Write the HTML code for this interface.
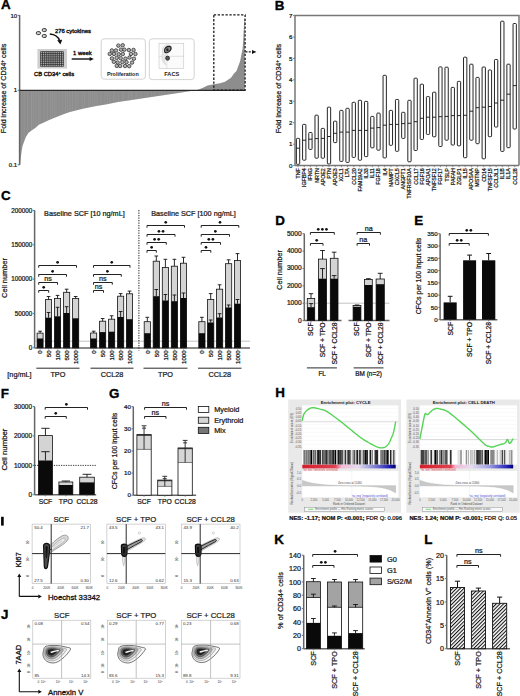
<!DOCTYPE html>
<html><head><meta charset="utf-8"><style>
html,body{margin:0;padding:0;background:#fff;width:520px;height:696px;overflow:hidden}
svg{display:block}
text{font-family:"Liberation Sans",sans-serif;stroke:currentColor;stroke-width:0.22px;paint-order:stroke}
text[font-weight=bold]{stroke-width:0}
</style></head><body>
<svg width="520" height="696" viewBox="0 0 520 696" font-family="Liberation Sans, sans-serif">
<text x="0.9" y="9.3" font-size="13.4" font-weight="bold" fill="#000" style="stroke-width:0.35px;stroke:#000">A</text>
<polygon points="19.8,90.5 19.8,165 20.1,165 20.3,162 21.5,151.5 22.6,145.7 24.3,141.1 26.1,136.5 28.4,133.1 31.8,130.2 35.3,127.9 38.8,124.8 43.4,122.7 48,120.6 52.6,118.6 58.4,116.3 64.1,114 69.9,112.1 75.7,110.6 84,108.6 95,106.3 107,104.2 118,102 130,100.2 145,97.9 160,95.8 170,94.3 180,92.8 187.5,91.6 195,90.5" fill="#8d8d8d"/>
<polygon points="195,90.5 198,89.8 202.5,88 207.5,85.6 213.8,84.3 220,83.2 225,81.8 227.3,80.3 231,77.8 234,73.6 236.5,71 238.3,66.1 240.1,61.2 241.3,55.1 242.6,49 243.2,40.5 243.8,29 244.3,18 244.8,18 244.9,90.5" fill="#8d8d8d"/>
<defs><clipPath id="clipA"><polygon points="19.8,90.5 19.8,165 20.1,165 20.3,162 21.5,151.5 22.6,145.7 24.3,141.1 26.1,136.5 28.4,133.1 31.8,130.2 35.3,127.9 38.8,124.8 43.4,122.7 48,120.6 52.6,118.6 58.4,116.3 64.1,114 69.9,112.1 75.7,110.6 84,108.6 95,106.3 107,104.2 118,102 130,100.2 145,97.9 160,95.8 170,94.3 180,92.8 187.5,91.6 195,90.5"/></clipPath></defs>
<path d="M21,91V165M24.2,91V165M27.4,91V165M31.5,91V165M33.3,91V165M35.8,91V165M38.3,91V165M40.1,91V165M44.2,91V165M47.4,91V165M50.6,91V165M52.4,91V165M54.2,91V165M56,91V165M59.2,91V165M62.4,91V165M65.6,91V165M67.4,91V165M69.9,91V165M72.4,91V165M75.6,91V165M78.1,91V165M82.2,91V165M84.7,91V165M88.8,91V165M90.6,91V165M92.4,91V165M94.2,91V165M96,91V165M97.8,91V165M101,91V165M105.1,91V165M107.6,91V165M110.1,91V165M113.3,91V165M115.1,91V165M118.3,91V165M122.4,91V165M124.2,91V165M128.3,91V165M130.1,91V165M131.9,91V165M136,91V165M137.8,91V165M141,91V165M145.1,91V165M147.6,91V165M151.7,91V165M154.9,91V165M159,91V165M161.5,91V165M164.7,91V165M168.8,91V165M172.9,91V165M175.4,91V165M177.9,91V165M179.7,91V165M181.5,91V165M184,91V165M188.1,91V165M190.6,91V165M192.4,91V165" stroke="#a2a2a2" stroke-width="0.4" fill="none" clip-path="url(#clipA)"/>
<line x1="19.6" y1="15" x2="19.6" y2="165" stroke="#666" stroke-width="1.5"/>
<line x1="17.6" y1="15.3" x2="19.6" y2="15.3" stroke="#666" stroke-width="0.9"/>
<line x1="17.6" y1="90.3" x2="19.6" y2="90.3" stroke="#666" stroke-width="0.9"/>
<line x1="17.6" y1="164.8" x2="19.6" y2="164.8" stroke="#666" stroke-width="0.9"/>
<text x="17.2" y="17.76" font-size="6" text-anchor="end" fill="#1a1a1a">10</text>
<text x="17.2" y="92.46" font-size="6" text-anchor="end" fill="#1a1a1a">1</text>
<text x="17.2" y="166.76" font-size="6" text-anchor="end" fill="#1a1a1a">0.1</text>
<line x1="19.6" y1="90.4" x2="245.3" y2="90.4" stroke="#2a2a2a" stroke-width="1.1"/>
<text transform="translate(6.16,88.5) rotate(-90)" font-size="7.1" text-anchor="middle" fill="#1a1a1a">Fold increase of CD34<tspan font-size="4.5" dy="-2.5">+</tspan><tspan dy="2.5"> cells</tspan></text>
<rect x="213.8" y="14.9" width="31.3" height="75.3" fill="none" stroke="#1a1a1a" stroke-width="1.3" stroke-dasharray="2.3,1.6"/>
<line x1="245.5" y1="51.9" x2="252.2" y2="51.9" stroke="#1a1a1a" stroke-width="1.2" stroke-dasharray="2,1.3"/>
<polygon points="252,49.9 256.4,51.9 252,53.9" fill="#111"/>
<rect x="36.3" y="31.6" width="4.2" height="3.0" rx="1.4" fill="#ccc" stroke="#222" stroke-width="0.85"/>
<rect x="42.2" y="28.6" width="4.2" height="3.0" rx="1.4" fill="#ccc" stroke="#222" stroke-width="0.85"/>
<rect x="42.2" y="34.5" width="4.2" height="3.0" rx="1.4" fill="#ccc" stroke="#222" stroke-width="0.85"/>
<path d="M49.8,34.0 Q57.5,34.6 59.7,40.8" fill="none" stroke="#111" stroke-width="1.4"/>
<polygon points="57.2,40.2 62.2,39.8 60.4,44.6" fill="#111"/>
<text x="54.9" y="33.42" font-size="5.9" text-anchor="start" fill="#1a1a1a" style="stroke-width:0.35px">276 cytokines</text>
<rect x="37.4" y="49" width="29.6" height="19.5" fill="#cfcfcf"/>
<path d="M40.6,51.6V66.3M42.5,51.6V66.3M44.4,51.6V66.3M46.3,51.6V66.3M48.2,51.6V66.3M50.1,51.6V66.3M52,51.6V66.3M53.9,51.6V66.3M55.8,51.6V66.3M57.7,51.6V66.3M59.6,51.6V66.3M61.5,51.6V66.3M63.4,51.6V66.3M40.6,51.6H63.4M40.6,53.44H63.4M40.6,55.27H63.4M40.6,57.11H63.4M40.6,58.95H63.4M40.6,60.79H63.4M40.6,62.62H63.4M40.6,64.46H63.4M40.6,66.3H63.4" stroke="#2a2a2a" stroke-width="0.75" fill="none"/>
<text x="34" y="75.89" font-size="5.8" text-anchor="start" fill="#1a1a1a" style="stroke-width:0.35px">CB CD34<tspan font-size="4" dy="-2">+</tspan><tspan dy="2"> cells</tspan></text>
<text x="73" y="55.12" font-size="5.9" text-anchor="start" fill="#1a1a1a" style="stroke-width:0.35px">1 week</text>
<line x1="71.7" y1="59" x2="90.5" y2="59" stroke="#111" stroke-width="1.4"/>
<polygon points="89.6,56.9 93.8,59 89.6,61.1" fill="#111"/>
<rect x="101.2" y="38.8" width="44.2" height="40.4" rx="3" fill="#fff" stroke="#c8c8c8" stroke-width="0.8"/>
<circle cx="118.35" cy="45.64" r="1.75" fill="#b0b0b0" stroke="#2a2a2a" stroke-width="0.75"/>
<circle cx="122.71" cy="45.24" r="1.75" fill="#b0b0b0" stroke="#2a2a2a" stroke-width="0.75"/>
<circle cx="111.88" cy="50.44" r="1.75" fill="#b0b0b0" stroke="#2a2a2a" stroke-width="0.75"/>
<circle cx="115.96" cy="50.47" r="1.75" fill="#b0b0b0" stroke="#2a2a2a" stroke-width="0.75"/>
<circle cx="121" cy="49.65" r="1.75" fill="#b0b0b0" stroke="#2a2a2a" stroke-width="0.75"/>
<circle cx="124.36" cy="49.67" r="1.75" fill="#b0b0b0" stroke="#2a2a2a" stroke-width="0.75"/>
<circle cx="128.85" cy="50" r="1.75" fill="#b0b0b0" stroke="#2a2a2a" stroke-width="0.75"/>
<circle cx="133.52" cy="49.96" r="1.75" fill="#b0b0b0" stroke="#2a2a2a" stroke-width="0.75"/>
<circle cx="109.75" cy="53.91" r="1.75" fill="#b0b0b0" stroke="#2a2a2a" stroke-width="0.75"/>
<circle cx="114.02" cy="53.94" r="1.75" fill="#b0b0b0" stroke="#2a2a2a" stroke-width="0.75"/>
<circle cx="118.71" cy="54.24" r="1.75" fill="#b0b0b0" stroke="#2a2a2a" stroke-width="0.75"/>
<circle cx="122.8" cy="54.03" r="1.75" fill="#b0b0b0" stroke="#2a2a2a" stroke-width="0.75"/>
<circle cx="130.97" cy="53.9" r="1.75" fill="#b0b0b0" stroke="#2a2a2a" stroke-width="0.75"/>
<circle cx="135.41" cy="53.99" r="1.75" fill="#b0b0b0" stroke="#2a2a2a" stroke-width="0.75"/>
<circle cx="111.94" cy="58.42" r="1.75" fill="#b0b0b0" stroke="#2a2a2a" stroke-width="0.75"/>
<circle cx="116.63" cy="57.88" r="1.75" fill="#b0b0b0" stroke="#2a2a2a" stroke-width="0.75"/>
<circle cx="120.63" cy="58.2" r="1.75" fill="#b0b0b0" stroke="#2a2a2a" stroke-width="0.75"/>
<circle cx="125.38" cy="58.63" r="1.75" fill="#b0b0b0" stroke="#2a2a2a" stroke-width="0.75"/>
<circle cx="129.53" cy="57.57" r="1.75" fill="#b0b0b0" stroke="#2a2a2a" stroke-width="0.75"/>
<circle cx="133.91" cy="58.69" r="1.75" fill="#b0b0b0" stroke="#2a2a2a" stroke-width="0.75"/>
<circle cx="113.85" cy="61.8" r="1.75" fill="#b0b0b0" stroke="#2a2a2a" stroke-width="0.75"/>
<circle cx="117.68" cy="62.52" r="1.75" fill="#b0b0b0" stroke="#2a2a2a" stroke-width="0.75"/>
<circle cx="122.35" cy="62.07" r="1.75" fill="#b0b0b0" stroke="#2a2a2a" stroke-width="0.75"/>
<circle cx="126.51" cy="62.14" r="1.75" fill="#b0b0b0" stroke="#2a2a2a" stroke-width="0.75"/>
<circle cx="132.04" cy="62.58" r="1.75" fill="#b0b0b0" stroke="#2a2a2a" stroke-width="0.75"/>
<circle cx="116.74" cy="65.88" r="1.75" fill="#b0b0b0" stroke="#2a2a2a" stroke-width="0.75"/>
<circle cx="120.12" cy="65.98" r="1.75" fill="#b0b0b0" stroke="#2a2a2a" stroke-width="0.75"/>
<circle cx="125.02" cy="66.02" r="1.75" fill="#b0b0b0" stroke="#2a2a2a" stroke-width="0.75"/>
<circle cx="129.19" cy="66.14" r="1.75" fill="#b0b0b0" stroke="#2a2a2a" stroke-width="0.75"/>
<text x="122.8" y="75.64" font-size="5.4" text-anchor="middle" font-weight="bold" fill="#1a1a1a">Proliferation</text>
<rect x="149.3" y="38.8" width="44.9" height="40.8" rx="3" fill="#fff" stroke="#c8c8c8" stroke-width="0.8"/>
<rect x="159" y="43.3" width="24.8" height="25.3" fill="#fbfbfb" stroke="#bbb" stroke-width="0.5"/>
<line x1="159" y1="56.3" x2="183.8" y2="56.3" stroke="#b5b5b5" stroke-width="0.4"/>
<line x1="166.8" y1="43.3" x2="166.8" y2="68.6" stroke="#c5c5c5" stroke-width="0.4"/>
<path d="M162.5,50 C162,46 168,43.5 171,46 C173,48 170,53 166.5,55 C164,57 164.5,62 166,65 C164,64 161,60 162,56 Z" fill="#e6e6e6" stroke="#c8c8c8" stroke-width="0.5"/>
<path d="M164.6,51.6 C163.8,48.5 166.8,46 169.6,46.4 C172,47 171.4,49.8 169,51.6 C167.6,52.8 165.2,53.4 164.6,51.6 Z" fill="#888" stroke="#1a1a1a" stroke-width="1.1"/>
<ellipse cx="167.4" cy="49.8" rx="1.2" ry="1.5" fill="#222"/>
<ellipse cx="167.6" cy="58.2" rx="1.9" ry="2.1" fill="#555" stroke="#222" stroke-width="0.8"/>
<text x="171.7" y="75.72" font-size="5.6" text-anchor="middle" font-weight="bold" fill="#1a1a1a">FACS</text>
<text x="274.8" y="9.5" font-size="13.4" font-weight="bold" fill="#000" style="stroke-width:0.35px;stroke:#000">B</text>
<path d="M295.0,165.6V15.6H519.0V165.6" fill="none" stroke="#777" stroke-width="1.5"/>
<line x1="295" y1="165.6" x2="519" y2="165.6" stroke="#777" stroke-width="1.5"/>
<line x1="293" y1="165.6" x2="294.8" y2="165.6" stroke="#666" stroke-width="0.8"/>
<text x="292.4" y="167.83" font-size="6.2" text-anchor="end" fill="#1a1a1a">0</text>
<line x1="293" y1="144.17" x2="294.8" y2="144.17" stroke="#666" stroke-width="0.8"/>
<text x="292.4" y="146.4" font-size="6.2" text-anchor="end" fill="#1a1a1a">1</text>
<line x1="293" y1="122.74" x2="294.8" y2="122.74" stroke="#666" stroke-width="0.8"/>
<text x="292.4" y="124.97" font-size="6.2" text-anchor="end" fill="#1a1a1a">2</text>
<line x1="293" y1="101.31" x2="294.8" y2="101.31" stroke="#666" stroke-width="0.8"/>
<text x="292.4" y="103.54" font-size="6.2" text-anchor="end" fill="#1a1a1a">3</text>
<line x1="293" y1="79.88" x2="294.8" y2="79.88" stroke="#666" stroke-width="0.8"/>
<text x="292.4" y="82.11" font-size="6.2" text-anchor="end" fill="#1a1a1a">4</text>
<line x1="293" y1="58.45" x2="294.8" y2="58.45" stroke="#666" stroke-width="0.8"/>
<text x="292.4" y="60.68" font-size="6.2" text-anchor="end" fill="#1a1a1a">5</text>
<line x1="293" y1="37.02" x2="294.8" y2="37.02" stroke="#666" stroke-width="0.8"/>
<text x="292.4" y="39.25" font-size="6.2" text-anchor="end" fill="#1a1a1a">6</text>
<line x1="293" y1="15.59" x2="294.8" y2="15.59" stroke="#666" stroke-width="0.8"/>
<text x="292.4" y="17.82" font-size="6.2" text-anchor="end" fill="#1a1a1a">7</text>
<text transform="translate(281.16,88.6) rotate(-90)" font-size="7.1" text-anchor="middle" fill="#1a1a1a">Fold increase of CD34<tspan font-size="4.5" dy="-2.5">+</tspan><tspan dy="2.5"> cells</tspan></text>
<rect x="296.4" y="138.4" width="3.3" height="25.9" rx="0.8" fill="#fff" stroke="#1a1a1a" stroke-width="0.95"/>
<line x1="296.4" y1="148.2" x2="299.7" y2="148.2" stroke="#111" stroke-width="0.9"/>
<line x1="298.05" y1="165.6" x2="298.05" y2="167.2" stroke="#666" stroke-width="0.7"/>
<text transform="translate(299.96,168.2) rotate(-90)" font-size="5.3" text-anchor="end" fill="#1a1a1a">TNF</text>
<rect x="302.59" y="124.4" width="3.3" height="35.8" rx="0.8" fill="#fff" stroke="#1a1a1a" stroke-width="0.95"/>
<line x1="302.59" y1="140.2" x2="305.89" y2="140.2" stroke="#111" stroke-width="0.9"/>
<line x1="304.24" y1="165.6" x2="304.24" y2="167.2" stroke="#666" stroke-width="0.7"/>
<text transform="translate(306.15,168.2) rotate(-90)" font-size="5.3" text-anchor="end" fill="#1a1a1a">IGFBP4</text>
<rect x="308.78" y="132.5" width="3.3" height="16.9" rx="0.8" fill="#fff" stroke="#1a1a1a" stroke-width="0.95"/>
<line x1="308.78" y1="139.2" x2="312.08" y2="139.2" stroke="#111" stroke-width="0.9"/>
<line x1="310.43" y1="165.6" x2="310.43" y2="167.2" stroke="#666" stroke-width="0.7"/>
<text transform="translate(312.34,168.2) rotate(-90)" font-size="5.3" text-anchor="end" fill="#1a1a1a">IFNG</text>
<rect x="314.97" y="115.2" width="3.3" height="43" rx="0.8" fill="#fff" stroke="#1a1a1a" stroke-width="0.95"/>
<line x1="314.97" y1="138.6" x2="318.27" y2="138.6" stroke="#111" stroke-width="0.9"/>
<line x1="316.62" y1="165.6" x2="316.62" y2="167.2" stroke="#666" stroke-width="0.7"/>
<text transform="translate(318.53,168.2) rotate(-90)" font-size="5.3" text-anchor="end" fill="#1a1a1a">NRTN</text>
<rect x="321.16" y="128.4" width="3.3" height="29.8" rx="0.8" fill="#fff" stroke="#1a1a1a" stroke-width="0.95"/>
<line x1="321.16" y1="138.4" x2="324.46" y2="138.4" stroke="#111" stroke-width="0.9"/>
<line x1="322.81" y1="165.6" x2="322.81" y2="167.2" stroke="#666" stroke-width="0.7"/>
<text transform="translate(324.72,168.2) rotate(-90)" font-size="5.3" text-anchor="end" fill="#1a1a1a">APOE2</text>
<rect x="327.35" y="107.2" width="3.3" height="56.7" rx="0.8" fill="#fff" stroke="#1a1a1a" stroke-width="0.95"/>
<line x1="327.35" y1="136.5" x2="330.65" y2="136.5" stroke="#111" stroke-width="0.9"/>
<line x1="329" y1="165.6" x2="329" y2="167.2" stroke="#666" stroke-width="0.7"/>
<text transform="translate(330.91,168.2) rotate(-90)" font-size="5.3" text-anchor="end" fill="#1a1a1a">PTN</text>
<rect x="333.54" y="121.2" width="3.3" height="21.4" rx="0.8" fill="#fff" stroke="#1a1a1a" stroke-width="0.95"/>
<line x1="333.54" y1="133.3" x2="336.84" y2="133.3" stroke="#111" stroke-width="0.9"/>
<line x1="335.19" y1="165.6" x2="335.19" y2="167.2" stroke="#666" stroke-width="0.7"/>
<text transform="translate(337.1,168.2) rotate(-90)" font-size="5.3" text-anchor="end" fill="#1a1a1a">APOE3</text>
<rect x="339.73" y="110.4" width="3.3" height="51" rx="0.8" fill="#fff" stroke="#1a1a1a" stroke-width="0.95"/>
<line x1="339.73" y1="132.1" x2="343.03" y2="132.1" stroke="#111" stroke-width="0.9"/>
<line x1="341.38" y1="165.6" x2="341.38" y2="167.2" stroke="#666" stroke-width="0.7"/>
<text transform="translate(343.29,168.2) rotate(-90)" font-size="5.3" text-anchor="end" fill="#1a1a1a">XCL1</text>
<rect x="345.92" y="108.3" width="3.3" height="54.1" rx="0.8" fill="#fff" stroke="#1a1a1a" stroke-width="0.95"/>
<line x1="345.92" y1="132.1" x2="349.22" y2="132.1" stroke="#111" stroke-width="0.9"/>
<line x1="347.57" y1="165.6" x2="347.57" y2="167.2" stroke="#666" stroke-width="0.7"/>
<text transform="translate(349.48,168.2) rotate(-90)" font-size="5.3" text-anchor="end" fill="#1a1a1a">LTA</text>
<rect x="352.11" y="102.3" width="3.3" height="55.1" rx="0.8" fill="#fff" stroke="#1a1a1a" stroke-width="0.95"/>
<line x1="352.11" y1="130.4" x2="355.41" y2="130.4" stroke="#111" stroke-width="0.9"/>
<line x1="353.76" y1="165.6" x2="353.76" y2="167.2" stroke="#666" stroke-width="0.7"/>
<text transform="translate(355.67,168.2) rotate(-90)" font-size="5.3" text-anchor="end" fill="#1a1a1a">CCL20</text>
<rect x="358.3" y="100.3" width="3.3" height="59.9" rx="0.8" fill="#fff" stroke="#1a1a1a" stroke-width="0.95"/>
<line x1="358.3" y1="130.4" x2="361.6" y2="130.4" stroke="#111" stroke-width="0.9"/>
<line x1="359.95" y1="165.6" x2="359.95" y2="167.2" stroke="#666" stroke-width="0.7"/>
<text transform="translate(361.86,168.2) rotate(-90)" font-size="5.3" text-anchor="end" fill="#1a1a1a">FAM19A2</text>
<rect x="364.49" y="101.4" width="3.3" height="55.2" rx="0.8" fill="#fff" stroke="#1a1a1a" stroke-width="0.95"/>
<line x1="364.49" y1="130.4" x2="367.79" y2="130.4" stroke="#111" stroke-width="0.9"/>
<line x1="366.14" y1="165.6" x2="366.14" y2="167.2" stroke="#666" stroke-width="0.7"/>
<text transform="translate(368.05,168.2) rotate(-90)" font-size="5.3" text-anchor="end" fill="#1a1a1a">IL33</text>
<rect x="370.68" y="116.4" width="3.3" height="31.4" rx="0.8" fill="#fff" stroke="#1a1a1a" stroke-width="0.95"/>
<line x1="370.68" y1="128.1" x2="373.98" y2="128.1" stroke="#111" stroke-width="0.9"/>
<line x1="372.33" y1="165.6" x2="372.33" y2="167.2" stroke="#666" stroke-width="0.7"/>
<text transform="translate(374.24,168.2) rotate(-90)" font-size="5.3" text-anchor="end" fill="#1a1a1a">IL11</text>
<rect x="376.87" y="113.1" width="3.3" height="37.1" rx="0.8" fill="#fff" stroke="#1a1a1a" stroke-width="0.95"/>
<line x1="376.87" y1="127.6" x2="380.17" y2="127.6" stroke="#111" stroke-width="0.9"/>
<line x1="378.52" y1="165.6" x2="378.52" y2="167.2" stroke="#666" stroke-width="0.7"/>
<text transform="translate(380.43,168.2) rotate(-90)" font-size="5.3" text-anchor="end" fill="#1a1a1a">FGF18</text>
<rect x="383.06" y="75.3" width="3.3" height="82.6" rx="0.8" fill="#fff" stroke="#1a1a1a" stroke-width="0.95"/>
<line x1="383.06" y1="125.2" x2="386.36" y2="125.2" stroke="#111" stroke-width="0.9"/>
<line x1="384.71" y1="165.6" x2="384.71" y2="167.2" stroke="#666" stroke-width="0.7"/>
<text transform="translate(386.62,168.2) rotate(-90)" font-size="5.3" text-anchor="end" fill="#1a1a1a">IL4</text>
<rect x="389.25" y="110.4" width="3.3" height="34.9" rx="0.8" fill="#fff" stroke="#1a1a1a" stroke-width="0.95"/>
<line x1="389.25" y1="124.4" x2="392.55" y2="124.4" stroke="#111" stroke-width="0.9"/>
<line x1="390.9" y1="165.6" x2="390.9" y2="167.2" stroke="#666" stroke-width="0.7"/>
<text transform="translate(392.81,168.2) rotate(-90)" font-size="5.3" text-anchor="end" fill="#1a1a1a">NAMPT</text>
<rect x="395.44" y="99.5" width="3.3" height="51.8" rx="0.8" fill="#fff" stroke="#1a1a1a" stroke-width="0.95"/>
<line x1="395.44" y1="124.4" x2="398.74" y2="124.4" stroke="#111" stroke-width="0.9"/>
<line x1="397.09" y1="165.6" x2="397.09" y2="167.2" stroke="#666" stroke-width="0.7"/>
<text transform="translate(399,168.2) rotate(-90)" font-size="5.3" text-anchor="end" fill="#1a1a1a">CXCL5</text>
<rect x="401.63" y="112.3" width="3.3" height="26.1" rx="0.8" fill="#fff" stroke="#1a1a1a" stroke-width="0.95"/>
<line x1="401.63" y1="123.6" x2="404.93" y2="123.6" stroke="#111" stroke-width="0.9"/>
<line x1="403.28" y1="165.6" x2="403.28" y2="167.2" stroke="#666" stroke-width="0.7"/>
<text transform="translate(405.19,168.2) rotate(-90)" font-size="5.3" text-anchor="end" fill="#1a1a1a">ANGPT1</text>
<rect x="407.82" y="100.3" width="3.3" height="61.5" rx="0.8" fill="#fff" stroke="#1a1a1a" stroke-width="0.95"/>
<line x1="407.82" y1="123.3" x2="411.12" y2="123.3" stroke="#111" stroke-width="0.9"/>
<line x1="409.47" y1="165.6" x2="409.47" y2="167.2" stroke="#666" stroke-width="0.7"/>
<text transform="translate(411.38,168.2) rotate(-90)" font-size="5.3" text-anchor="end" fill="#1a1a1a">TNFRSF10A</text>
<rect x="414.01" y="78.2" width="3.3" height="72.3" rx="0.8" fill="#fff" stroke="#1a1a1a" stroke-width="0.95"/>
<line x1="414.01" y1="121.7" x2="417.31" y2="121.7" stroke="#111" stroke-width="0.9"/>
<line x1="415.66" y1="165.6" x2="415.66" y2="167.2" stroke="#666" stroke-width="0.7"/>
<text transform="translate(417.57,168.2) rotate(-90)" font-size="5.3" text-anchor="end" fill="#1a1a1a">CCL17</text>
<rect x="420.2" y="84.2" width="3.3" height="55.2" rx="0.8" fill="#fff" stroke="#1a1a1a" stroke-width="0.95"/>
<line x1="420.2" y1="118.3" x2="423.5" y2="118.3" stroke="#111" stroke-width="0.9"/>
<line x1="421.85" y1="165.6" x2="421.85" y2="167.2" stroke="#666" stroke-width="0.7"/>
<text transform="translate(423.76,168.2) rotate(-90)" font-size="5.3" text-anchor="end" fill="#1a1a1a">FGF16</text>
<rect x="426.39" y="96.6" width="3.3" height="37.8" rx="0.8" fill="#fff" stroke="#1a1a1a" stroke-width="0.95"/>
<line x1="426.39" y1="117.2" x2="429.69" y2="117.2" stroke="#111" stroke-width="0.9"/>
<line x1="428.04" y1="165.6" x2="428.04" y2="167.2" stroke="#666" stroke-width="0.7"/>
<text transform="translate(429.95,168.2) rotate(-90)" font-size="5.3" text-anchor="end" fill="#1a1a1a">APOA1</text>
<rect x="432.58" y="92.2" width="3.3" height="44.6" rx="0.8" fill="#fff" stroke="#1a1a1a" stroke-width="0.95"/>
<line x1="432.58" y1="117.2" x2="435.88" y2="117.2" stroke="#111" stroke-width="0.9"/>
<line x1="434.23" y1="165.6" x2="434.23" y2="167.2" stroke="#666" stroke-width="0.7"/>
<text transform="translate(436.14,168.2) rotate(-90)" font-size="5.3" text-anchor="end" fill="#1a1a1a">TNFSF12</text>
<rect x="438.77" y="66.9" width="3.3" height="79.6" rx="0.8" fill="#fff" stroke="#1a1a1a" stroke-width="0.95"/>
<line x1="438.77" y1="116.7" x2="442.07" y2="116.7" stroke="#111" stroke-width="0.9"/>
<line x1="440.42" y1="165.6" x2="440.42" y2="167.2" stroke="#666" stroke-width="0.7"/>
<text transform="translate(442.33,168.2) rotate(-90)" font-size="5.3" text-anchor="end" fill="#1a1a1a">FGF17</text>
<rect x="444.96" y="67.2" width="3.3" height="73" rx="0.8" fill="#fff" stroke="#1a1a1a" stroke-width="0.95"/>
<line x1="444.96" y1="116.4" x2="448.26" y2="116.4" stroke="#111" stroke-width="0.9"/>
<line x1="446.61" y1="165.6" x2="446.61" y2="167.2" stroke="#666" stroke-width="0.7"/>
<text transform="translate(448.52,168.2) rotate(-90)" font-size="5.3" text-anchor="end" fill="#1a1a1a">TSLP</text>
<rect x="451.15" y="87.4" width="3.3" height="57.6" rx="0.8" fill="#fff" stroke="#1a1a1a" stroke-width="0.95"/>
<line x1="451.15" y1="115.6" x2="454.45" y2="115.6" stroke="#111" stroke-width="0.9"/>
<line x1="452.8" y1="165.6" x2="452.8" y2="167.2" stroke="#666" stroke-width="0.7"/>
<text transform="translate(454.71,168.2) rotate(-90)" font-size="5.3" text-anchor="end" fill="#1a1a1a">PAFAH</text>
<rect x="457.34" y="81.4" width="3.3" height="64.4" rx="0.8" fill="#fff" stroke="#1a1a1a" stroke-width="0.95"/>
<line x1="457.34" y1="115.6" x2="460.64" y2="115.6" stroke="#111" stroke-width="0.9"/>
<line x1="458.99" y1="165.6" x2="458.99" y2="167.2" stroke="#666" stroke-width="0.7"/>
<text transform="translate(460.9,168.2) rotate(-90)" font-size="5.3" text-anchor="end" fill="#1a1a1a">ZGLP1</text>
<rect x="463.53" y="57.2" width="3.3" height="100.5" rx="0.8" fill="#fff" stroke="#1a1a1a" stroke-width="0.95"/>
<line x1="463.53" y1="115.3" x2="466.83" y2="115.3" stroke="#111" stroke-width="0.9"/>
<line x1="465.18" y1="165.6" x2="465.18" y2="167.2" stroke="#666" stroke-width="0.7"/>
<text transform="translate(467.09,168.2) rotate(-90)" font-size="5.3" text-anchor="end" fill="#1a1a1a">IL15</text>
<rect x="469.72" y="64.2" width="3.3" height="76" rx="0.8" fill="#fff" stroke="#1a1a1a" stroke-width="0.95"/>
<line x1="469.72" y1="111.2" x2="473.02" y2="111.2" stroke="#111" stroke-width="0.9"/>
<line x1="471.37" y1="165.6" x2="471.37" y2="167.2" stroke="#666" stroke-width="0.7"/>
<text transform="translate(473.28,168.2) rotate(-90)" font-size="5.3" text-anchor="end" fill="#1a1a1a">APOSAA</text>
<rect x="475.91" y="77.4" width="3.3" height="66.3" rx="0.8" fill="#fff" stroke="#1a1a1a" stroke-width="0.95"/>
<line x1="475.91" y1="107.7" x2="479.21" y2="107.7" stroke="#111" stroke-width="0.9"/>
<line x1="477.56" y1="165.6" x2="477.56" y2="167.2" stroke="#666" stroke-width="0.7"/>
<text transform="translate(479.47,168.2) rotate(-90)" font-size="5.3" text-anchor="end" fill="#1a1a1a">MSTNP</text>
<rect x="482.1" y="67" width="3.3" height="91.8" rx="0.8" fill="#fff" stroke="#1a1a1a" stroke-width="0.95"/>
<line x1="482.1" y1="107.2" x2="485.4" y2="107.2" stroke="#111" stroke-width="0.9"/>
<line x1="483.75" y1="165.6" x2="483.75" y2="167.2" stroke="#666" stroke-width="0.7"/>
<text transform="translate(485.66,168.2) rotate(-90)" font-size="5.3" text-anchor="end" fill="#1a1a1a">CD14</text>
<rect x="488.29" y="70" width="3.3" height="66.7" rx="0.8" fill="#fff" stroke="#1a1a1a" stroke-width="0.95"/>
<line x1="488.29" y1="106.5" x2="491.59" y2="106.5" stroke="#111" stroke-width="0.9"/>
<line x1="489.94" y1="165.6" x2="489.94" y2="167.2" stroke="#666" stroke-width="0.7"/>
<text transform="translate(491.85,168.2) rotate(-90)" font-size="5.3" text-anchor="end" fill="#1a1a1a">TNFSF15</text>
<rect x="494.48" y="59.5" width="3.3" height="67.5" rx="0.8" fill="#fff" stroke="#1a1a1a" stroke-width="0.95"/>
<line x1="494.48" y1="103" x2="497.78" y2="103" stroke="#111" stroke-width="0.9"/>
<line x1="496.13" y1="165.6" x2="496.13" y2="167.2" stroke="#666" stroke-width="0.7"/>
<text transform="translate(498.04,168.2) rotate(-90)" font-size="5.3" text-anchor="end" fill="#1a1a1a">CCL3L1</text>
<rect x="500.67" y="21.2" width="3.3" height="130.2" rx="0.8" fill="#fff" stroke="#1a1a1a" stroke-width="0.95"/>
<line x1="500.67" y1="100.2" x2="503.97" y2="100.2" stroke="#111" stroke-width="0.9"/>
<line x1="502.32" y1="165.6" x2="502.32" y2="167.2" stroke="#666" stroke-width="0.7"/>
<text transform="translate(504.23,168.2) rotate(-90)" font-size="5.3" text-anchor="end" fill="#1a1a1a">IL1B</text>
<rect x="506.86" y="64.2" width="3.3" height="83.5" rx="0.8" fill="#fff" stroke="#1a1a1a" stroke-width="0.95"/>
<line x1="506.86" y1="94.2" x2="510.16" y2="94.2" stroke="#111" stroke-width="0.9"/>
<line x1="508.51" y1="165.6" x2="508.51" y2="167.2" stroke="#666" stroke-width="0.7"/>
<text transform="translate(510.42,168.2) rotate(-90)" font-size="5.3" text-anchor="end" fill="#1a1a1a">IL1A</text>
<rect x="513.05" y="23.5" width="3.3" height="105.5" rx="0.8" fill="#fff" stroke="#1a1a1a" stroke-width="0.95"/>
<line x1="513.05" y1="85.6" x2="516.35" y2="85.6" stroke="#111" stroke-width="0.9"/>
<line x1="514.7" y1="165.6" x2="514.7" y2="167.2" stroke="#666" stroke-width="0.7"/>
<text transform="translate(516.61,168.2) rotate(-90)" font-size="5.3" text-anchor="end" fill="#1a1a1a">CCL28</text>
<text x="0.9" y="200.2" font-size="13.4" font-weight="bold" fill="#000" style="stroke-width:0.35px;stroke:#000">C</text>
<line x1="34.6" y1="210.3" x2="34.6" y2="347.9" stroke="#666" stroke-width="1.5"/>
<line x1="34.6" y1="347.9" x2="250" y2="347.9" stroke="#666" stroke-width="1.5"/>
<line x1="32.8" y1="347.9" x2="34.6" y2="347.9" stroke="#666" stroke-width="0.9"/>
<text x="32.2" y="350.17" font-size="6.3" text-anchor="end" fill="#1a1a1a">0</text>
<line x1="32.8" y1="313.55" x2="34.6" y2="313.55" stroke="#666" stroke-width="0.9"/>
<text x="32.2" y="315.82" font-size="6.3" text-anchor="end" fill="#1a1a1a">50000</text>
<line x1="32.8" y1="279.2" x2="34.6" y2="279.2" stroke="#666" stroke-width="0.9"/>
<text x="32.2" y="281.47" font-size="6.3" text-anchor="end" fill="#1a1a1a">100000</text>
<line x1="32.8" y1="244.85" x2="34.6" y2="244.85" stroke="#666" stroke-width="0.9"/>
<text x="32.2" y="247.12" font-size="6.3" text-anchor="end" fill="#1a1a1a">150000</text>
<line x1="32.8" y1="210.5" x2="34.6" y2="210.5" stroke="#666" stroke-width="0.9"/>
<text x="32.2" y="212.77" font-size="6.3" text-anchor="end" fill="#1a1a1a">200000</text>
<text transform="translate(6.96,278) rotate(-90)" font-size="7.4" text-anchor="middle" fill="#1a1a1a">Cell number</text>
<text x="84.4" y="215.71" font-size="7.25" text-anchor="middle" fill="#1a1a1a">Baseline SCF [10 ng/mL]</text>
<text x="193.5" y="215.71" font-size="7.25" text-anchor="middle" fill="#1a1a1a">Baseline SCF [100 ng/mL]</text>
<line x1="34.6" y1="341.2" x2="250" y2="341.2" stroke="#9a9a9a" stroke-width="0.6"/>
<line x1="138.9" y1="210" x2="138.9" y2="350.5" stroke="#222" stroke-width="1" stroke-dasharray="1.3,1.2"/>
<rect x="37.1" y="333.1" width="6" height="14.8" fill="#d4d4d4" stroke="#111" stroke-width="0.8"/>
<rect x="37.1" y="338.5" width="6" height="9.4" fill="#0a0a0a"/>
<line x1="40.1" y1="333.1" x2="40.1" y2="331.2" stroke="#111" stroke-width="0.9"/>
<line x1="38.3" y1="331.2" x2="41.9" y2="331.2" stroke="#111" stroke-width="0.9"/>
<line x1="40.1" y1="347.9" x2="40.1" y2="349.5" stroke="#666" stroke-width="0.8"/>
<rect x="45.5" y="299.6" width="6.1" height="48.3" fill="#d4d4d4" stroke="#111" stroke-width="0.8"/>
<rect x="45.5" y="317.7" width="6.1" height="30.2" fill="#0a0a0a"/>
<line x1="48.55" y1="299.6" x2="48.55" y2="296.5" stroke="#111" stroke-width="0.9"/>
<line x1="46.72" y1="296.5" x2="50.38" y2="296.5" stroke="#111" stroke-width="0.9"/>
<line x1="48.55" y1="317.7" x2="48.55" y2="312.5" stroke="#111" stroke-width="0.9"/>
<line x1="46.72" y1="312.5" x2="50.38" y2="312.5" stroke="#111" stroke-width="0.9"/>
<line x1="48.55" y1="347.9" x2="48.55" y2="349.5" stroke="#666" stroke-width="0.8"/>
<rect x="54.5" y="298.5" width="6.1" height="49.4" fill="#d4d4d4" stroke="#111" stroke-width="0.8"/>
<rect x="54.5" y="316.3" width="6.1" height="31.6" fill="#0a0a0a"/>
<line x1="57.55" y1="298.5" x2="57.55" y2="295.4" stroke="#111" stroke-width="0.9"/>
<line x1="55.72" y1="295.4" x2="59.38" y2="295.4" stroke="#111" stroke-width="0.9"/>
<line x1="57.55" y1="316.3" x2="57.55" y2="307.3" stroke="#111" stroke-width="0.9"/>
<line x1="55.72" y1="307.3" x2="59.38" y2="307.3" stroke="#111" stroke-width="0.9"/>
<line x1="57.55" y1="347.9" x2="57.55" y2="349.5" stroke="#666" stroke-width="0.8"/>
<rect x="63.6" y="292.3" width="6.1" height="55.6" fill="#d4d4d4" stroke="#111" stroke-width="0.8"/>
<rect x="63.6" y="313" width="6.1" height="34.9" fill="#0a0a0a"/>
<line x1="66.65" y1="292.3" x2="66.65" y2="289.2" stroke="#111" stroke-width="0.9"/>
<line x1="64.82" y1="289.2" x2="68.48" y2="289.2" stroke="#111" stroke-width="0.9"/>
<line x1="66.65" y1="313" x2="66.65" y2="306.7" stroke="#111" stroke-width="0.9"/>
<line x1="64.82" y1="306.7" x2="68.48" y2="306.7" stroke="#111" stroke-width="0.9"/>
<line x1="66.65" y1="347.9" x2="66.65" y2="349.5" stroke="#666" stroke-width="0.8"/>
<rect x="72.6" y="298.5" width="6.1" height="49.4" fill="#d4d4d4" stroke="#111" stroke-width="0.8"/>
<rect x="72.6" y="318.3" width="6.1" height="29.6" fill="#0a0a0a"/>
<line x1="75.65" y1="298.5" x2="75.65" y2="296.5" stroke="#111" stroke-width="0.9"/>
<line x1="73.82" y1="296.5" x2="77.48" y2="296.5" stroke="#111" stroke-width="0.9"/>
<line x1="75.65" y1="347.9" x2="75.65" y2="349.5" stroke="#666" stroke-width="0.8"/>
<rect x="90.6" y="333" width="6.1" height="14.9" fill="#d4d4d4" stroke="#111" stroke-width="0.8"/>
<rect x="90.6" y="338.5" width="6.1" height="9.4" fill="#0a0a0a"/>
<line x1="93.65" y1="333" x2="93.65" y2="331.2" stroke="#111" stroke-width="0.9"/>
<line x1="91.82" y1="331.2" x2="95.48" y2="331.2" stroke="#111" stroke-width="0.9"/>
<line x1="93.65" y1="347.9" x2="93.65" y2="349.5" stroke="#666" stroke-width="0.8"/>
<rect x="99.6" y="321.2" width="6.1" height="26.7" fill="#d4d4d4" stroke="#111" stroke-width="0.8"/>
<rect x="99.6" y="332.1" width="6.1" height="15.8" fill="#0a0a0a"/>
<line x1="102.65" y1="321.2" x2="102.65" y2="318.5" stroke="#111" stroke-width="0.9"/>
<line x1="100.82" y1="318.5" x2="104.48" y2="318.5" stroke="#111" stroke-width="0.9"/>
<line x1="102.65" y1="347.9" x2="102.65" y2="349.5" stroke="#666" stroke-width="0.8"/>
<rect x="108.6" y="319.2" width="6.1" height="28.7" fill="#d4d4d4" stroke="#111" stroke-width="0.8"/>
<rect x="108.6" y="331.7" width="6.1" height="16.2" fill="#0a0a0a"/>
<line x1="111.65" y1="319.2" x2="111.65" y2="315.8" stroke="#111" stroke-width="0.9"/>
<line x1="109.82" y1="315.8" x2="113.48" y2="315.8" stroke="#111" stroke-width="0.9"/>
<line x1="111.65" y1="347.9" x2="111.65" y2="349.5" stroke="#666" stroke-width="0.8"/>
<rect x="117.6" y="296.2" width="6.1" height="51.7" fill="#d4d4d4" stroke="#111" stroke-width="0.8"/>
<rect x="117.6" y="317" width="6.1" height="30.9" fill="#0a0a0a"/>
<line x1="120.65" y1="296.2" x2="120.65" y2="293.6" stroke="#111" stroke-width="0.9"/>
<line x1="118.82" y1="293.6" x2="122.48" y2="293.6" stroke="#111" stroke-width="0.9"/>
<line x1="120.65" y1="317" x2="120.65" y2="311.5" stroke="#111" stroke-width="0.9"/>
<line x1="118.82" y1="311.5" x2="122.48" y2="311.5" stroke="#111" stroke-width="0.9"/>
<line x1="120.65" y1="347.9" x2="120.65" y2="349.5" stroke="#666" stroke-width="0.8"/>
<rect x="126.5" y="293.8" width="6.1" height="54.1" fill="#d4d4d4" stroke="#111" stroke-width="0.8"/>
<rect x="126.5" y="319.2" width="6.1" height="28.7" fill="#0a0a0a"/>
<line x1="129.55" y1="293.8" x2="129.55" y2="291.1" stroke="#111" stroke-width="0.9"/>
<line x1="127.72" y1="291.1" x2="131.38" y2="291.1" stroke="#111" stroke-width="0.9"/>
<line x1="129.55" y1="347.9" x2="129.55" y2="349.5" stroke="#666" stroke-width="0.8"/>
<rect x="144.2" y="321.7" width="6.2" height="26.2" fill="#d4d4d4" stroke="#111" stroke-width="0.8"/>
<rect x="144.2" y="333.2" width="6.2" height="14.7" fill="#0a0a0a"/>
<line x1="147.3" y1="321.7" x2="147.3" y2="317.3" stroke="#111" stroke-width="0.9"/>
<line x1="145.44" y1="317.3" x2="149.16" y2="317.3" stroke="#111" stroke-width="0.9"/>
<line x1="147.3" y1="347.9" x2="147.3" y2="349.5" stroke="#666" stroke-width="0.8"/>
<rect x="153.2" y="261.2" width="6.2" height="86.7" fill="#d4d4d4" stroke="#111" stroke-width="0.8"/>
<rect x="153.2" y="296.2" width="6.2" height="51.7" fill="#0a0a0a"/>
<line x1="156.3" y1="261.2" x2="156.3" y2="256" stroke="#111" stroke-width="0.9"/>
<line x1="154.44" y1="256" x2="158.16" y2="256" stroke="#111" stroke-width="0.9"/>
<line x1="156.3" y1="296.2" x2="156.3" y2="289.5" stroke="#111" stroke-width="0.9"/>
<line x1="154.44" y1="289.5" x2="158.16" y2="289.5" stroke="#111" stroke-width="0.9"/>
<line x1="156.3" y1="347.9" x2="156.3" y2="349.5" stroke="#666" stroke-width="0.8"/>
<rect x="162.3" y="267.5" width="6.2" height="80.4" fill="#d4d4d4" stroke="#111" stroke-width="0.8"/>
<rect x="162.3" y="300.5" width="6.2" height="47.4" fill="#0a0a0a"/>
<line x1="165.4" y1="267.5" x2="165.4" y2="259.3" stroke="#111" stroke-width="0.9"/>
<line x1="163.54" y1="259.3" x2="167.26" y2="259.3" stroke="#111" stroke-width="0.9"/>
<line x1="165.4" y1="300.5" x2="165.4" y2="294.5" stroke="#111" stroke-width="0.9"/>
<line x1="163.54" y1="294.5" x2="167.26" y2="294.5" stroke="#111" stroke-width="0.9"/>
<line x1="165.4" y1="347.9" x2="165.4" y2="349.5" stroke="#666" stroke-width="0.8"/>
<rect x="171.3" y="266.2" width="6.2" height="81.7" fill="#d4d4d4" stroke="#111" stroke-width="0.8"/>
<rect x="171.3" y="301.2" width="6.2" height="46.7" fill="#0a0a0a"/>
<line x1="174.4" y1="266.2" x2="174.4" y2="259.3" stroke="#111" stroke-width="0.9"/>
<line x1="172.54" y1="259.3" x2="176.26" y2="259.3" stroke="#111" stroke-width="0.9"/>
<line x1="174.4" y1="301.2" x2="174.4" y2="295" stroke="#111" stroke-width="0.9"/>
<line x1="172.54" y1="295" x2="176.26" y2="295" stroke="#111" stroke-width="0.9"/>
<line x1="174.4" y1="347.9" x2="174.4" y2="349.5" stroke="#666" stroke-width="0.8"/>
<rect x="180.4" y="263.2" width="6.2" height="84.7" fill="#d4d4d4" stroke="#111" stroke-width="0.8"/>
<rect x="180.4" y="298" width="6.2" height="49.9" fill="#0a0a0a"/>
<line x1="183.5" y1="263.2" x2="183.5" y2="257.3" stroke="#111" stroke-width="0.9"/>
<line x1="181.64" y1="257.3" x2="185.36" y2="257.3" stroke="#111" stroke-width="0.9"/>
<line x1="183.5" y1="298" x2="183.5" y2="293" stroke="#111" stroke-width="0.9"/>
<line x1="181.64" y1="293" x2="185.36" y2="293" stroke="#111" stroke-width="0.9"/>
<line x1="183.5" y1="347.9" x2="183.5" y2="349.5" stroke="#666" stroke-width="0.8"/>
<rect x="198.8" y="321.7" width="6.2" height="26.2" fill="#d4d4d4" stroke="#111" stroke-width="0.8"/>
<rect x="198.8" y="333.2" width="6.2" height="14.7" fill="#0a0a0a"/>
<line x1="201.9" y1="321.7" x2="201.9" y2="317.3" stroke="#111" stroke-width="0.9"/>
<line x1="200.04" y1="317.3" x2="203.76" y2="317.3" stroke="#111" stroke-width="0.9"/>
<line x1="201.9" y1="347.9" x2="201.9" y2="349.5" stroke="#666" stroke-width="0.8"/>
<rect x="207.6" y="299.5" width="6.2" height="48.4" fill="#d4d4d4" stroke="#111" stroke-width="0.8"/>
<rect x="207.6" y="322.5" width="6.2" height="25.4" fill="#0a0a0a"/>
<line x1="210.7" y1="299.5" x2="210.7" y2="293.6" stroke="#111" stroke-width="0.9"/>
<line x1="208.84" y1="293.6" x2="212.56" y2="293.6" stroke="#111" stroke-width="0.9"/>
<line x1="210.7" y1="322.5" x2="210.7" y2="320" stroke="#111" stroke-width="0.9"/>
<line x1="208.84" y1="320" x2="212.56" y2="320" stroke="#111" stroke-width="0.9"/>
<line x1="210.7" y1="347.9" x2="210.7" y2="349.5" stroke="#666" stroke-width="0.8"/>
<rect x="216.5" y="289.2" width="6.2" height="58.7" fill="#d4d4d4" stroke="#111" stroke-width="0.8"/>
<rect x="216.5" y="317.5" width="6.2" height="30.4" fill="#0a0a0a"/>
<line x1="219.6" y1="289.2" x2="219.6" y2="284.8" stroke="#111" stroke-width="0.9"/>
<line x1="217.74" y1="284.8" x2="221.46" y2="284.8" stroke="#111" stroke-width="0.9"/>
<line x1="219.6" y1="317.5" x2="219.6" y2="313.7" stroke="#111" stroke-width="0.9"/>
<line x1="217.74" y1="313.7" x2="221.46" y2="313.7" stroke="#111" stroke-width="0.9"/>
<line x1="219.6" y1="347.9" x2="219.6" y2="349.5" stroke="#666" stroke-width="0.8"/>
<rect x="225.5" y="263.7" width="6.2" height="84.2" fill="#d4d4d4" stroke="#111" stroke-width="0.8"/>
<rect x="225.5" y="307.5" width="6.2" height="40.4" fill="#0a0a0a"/>
<line x1="228.6" y1="263.7" x2="228.6" y2="259.8" stroke="#111" stroke-width="0.9"/>
<line x1="226.74" y1="259.8" x2="230.46" y2="259.8" stroke="#111" stroke-width="0.9"/>
<line x1="228.6" y1="307.5" x2="228.6" y2="305" stroke="#111" stroke-width="0.9"/>
<line x1="226.74" y1="305" x2="230.46" y2="305" stroke="#111" stroke-width="0.9"/>
<line x1="228.6" y1="347.9" x2="228.6" y2="349.5" stroke="#666" stroke-width="0.8"/>
<rect x="234.4" y="260.5" width="6.2" height="87.4" fill="#d4d4d4" stroke="#111" stroke-width="0.8"/>
<rect x="234.4" y="303.7" width="6.2" height="44.2" fill="#0a0a0a"/>
<line x1="237.5" y1="260.5" x2="237.5" y2="253.6" stroke="#111" stroke-width="0.9"/>
<line x1="235.64" y1="253.6" x2="239.36" y2="253.6" stroke="#111" stroke-width="0.9"/>
<line x1="237.5" y1="303.7" x2="237.5" y2="299.5" stroke="#111" stroke-width="0.9"/>
<line x1="235.64" y1="299.5" x2="239.36" y2="299.5" stroke="#111" stroke-width="0.9"/>
<line x1="237.5" y1="347.9" x2="237.5" y2="349.5" stroke="#666" stroke-width="0.8"/>
<text transform="translate(42.3,350.4) rotate(-90)" font-size="6.1" text-anchor="end" fill="#1a1a1a">0</text>
<text transform="translate(50.75,350.4) rotate(-90)" font-size="6.1" text-anchor="end" fill="#1a1a1a">50</text>
<text transform="translate(59.75,350.4) rotate(-90)" font-size="6.1" text-anchor="end" fill="#1a1a1a">100</text>
<text transform="translate(68.85,350.4) rotate(-90)" font-size="6.1" text-anchor="end" fill="#1a1a1a">500</text>
<text transform="translate(77.85,350.4) rotate(-90)" font-size="6.1" text-anchor="end" fill="#1a1a1a">1000</text>
<text transform="translate(95.85,350.4) rotate(-90)" font-size="6.1" text-anchor="end" fill="#1a1a1a">0</text>
<text transform="translate(104.85,350.4) rotate(-90)" font-size="6.1" text-anchor="end" fill="#1a1a1a">50</text>
<text transform="translate(113.85,350.4) rotate(-90)" font-size="6.1" text-anchor="end" fill="#1a1a1a">100</text>
<text transform="translate(122.85,350.4) rotate(-90)" font-size="6.1" text-anchor="end" fill="#1a1a1a">500</text>
<text transform="translate(131.75,350.4) rotate(-90)" font-size="6.1" text-anchor="end" fill="#1a1a1a">1000</text>
<text transform="translate(149.5,350.4) rotate(-90)" font-size="6.1" text-anchor="end" fill="#1a1a1a">0</text>
<text transform="translate(158.5,350.4) rotate(-90)" font-size="6.1" text-anchor="end" fill="#1a1a1a">50</text>
<text transform="translate(167.6,350.4) rotate(-90)" font-size="6.1" text-anchor="end" fill="#1a1a1a">100</text>
<text transform="translate(176.6,350.4) rotate(-90)" font-size="6.1" text-anchor="end" fill="#1a1a1a">500</text>
<text transform="translate(185.7,350.4) rotate(-90)" font-size="6.1" text-anchor="end" fill="#1a1a1a">1000</text>
<text transform="translate(204.1,350.4) rotate(-90)" font-size="6.1" text-anchor="end" fill="#1a1a1a">0</text>
<text transform="translate(212.9,350.4) rotate(-90)" font-size="6.1" text-anchor="end" fill="#1a1a1a">50</text>
<text transform="translate(221.8,350.4) rotate(-90)" font-size="6.1" text-anchor="end" fill="#1a1a1a">100</text>
<text transform="translate(230.8,350.4) rotate(-90)" font-size="6.1" text-anchor="end" fill="#1a1a1a">500</text>
<text transform="translate(239.7,350.4) rotate(-90)" font-size="6.1" text-anchor="end" fill="#1a1a1a">1000</text>
<polyline points="38.7,292.7 38.7,290.5 48.7,290.5 48.7,292.7" fill="none" stroke="#222" stroke-width="1"/>
<circle cx="43.7" cy="287.3" r="1.35" fill="#111"/>
<polyline points="38.7,284.7 38.7,282.5 57.5,282.5 57.5,284.7" fill="none" stroke="#222" stroke-width="1"/>
<text x="48.1" y="281.39" font-size="7.2" text-anchor="middle" fill="#1a1a1a">ns</text>
<polyline points="38.7,276.7 38.7,274.5 66.5,274.5 66.5,276.7" fill="none" stroke="#222" stroke-width="1"/>
<circle cx="52.6" cy="271.3" r="1.35" fill="#111"/>
<polyline points="38.7,267.7 38.7,265.5 76.5,265.5 76.5,267.7" fill="none" stroke="#222" stroke-width="1"/>
<circle cx="57.6" cy="262.3" r="1.35" fill="#111"/>
<polyline points="93.5,292.7 93.5,290.5 103.5,290.5 103.5,292.7" fill="none" stroke="#222" stroke-width="1"/>
<text x="98.5" y="289.39" font-size="7.2" text-anchor="middle" fill="#1a1a1a">ns</text>
<polyline points="93.5,284.7 93.5,282.5 112.3,282.5 112.3,284.7" fill="none" stroke="#222" stroke-width="1"/>
<text x="102.9" y="281.39" font-size="7.2" text-anchor="middle" fill="#1a1a1a">ns</text>
<polyline points="93.5,276.7 93.5,274.5 121.3,274.5 121.3,276.7" fill="none" stroke="#222" stroke-width="1"/>
<circle cx="107.4" cy="271.3" r="1.35" fill="#111"/>
<polyline points="93.5,267.7 93.5,265.5 130,265.5 130,267.7" fill="none" stroke="#222" stroke-width="1"/>
<circle cx="111.75" cy="262.3" r="1.35" fill="#111"/>
<polyline points="147,252.7 147,250.5 156.3,250.5 156.3,252.7" fill="none" stroke="#222" stroke-width="1"/>
<circle cx="151.65" cy="247.3" r="1.35" fill="#111"/>
<polyline points="147,244.7 147,242.5 166.3,242.5 166.3,244.7" fill="none" stroke="#222" stroke-width="1"/>
<circle cx="154.6" cy="239.3" r="1.35" fill="#111"/>
<circle cx="158.7" cy="239.3" r="1.35" fill="#111"/>
<polyline points="147,236.7 147,234.5 175,234.5 175,236.7" fill="none" stroke="#222" stroke-width="1"/>
<circle cx="158.95" cy="231.3" r="1.35" fill="#111"/>
<circle cx="163.05" cy="231.3" r="1.35" fill="#111"/>
<polyline points="147,227.7 147,225.5 184.5,225.5 184.5,227.7" fill="none" stroke="#222" stroke-width="1"/>
<circle cx="165.75" cy="222.3" r="1.35" fill="#111"/>
<polyline points="201.2,252.7 201.2,250.5 210.8,250.5 210.8,252.7" fill="none" stroke="#222" stroke-width="1"/>
<circle cx="206" cy="247.3" r="1.35" fill="#111"/>
<polyline points="201.2,244.7 201.2,242.5 220.5,242.5 220.5,244.7" fill="none" stroke="#222" stroke-width="1"/>
<circle cx="208.8" cy="239.3" r="1.35" fill="#111"/>
<circle cx="212.9" cy="239.3" r="1.35" fill="#111"/>
<polyline points="201.2,236.7 201.2,234.5 229.5,234.5 229.5,236.7" fill="none" stroke="#222" stroke-width="1"/>
<circle cx="215.35" cy="231.3" r="1.35" fill="#111"/>
<polyline points="201.2,227.7 201.2,225.5 238.8,225.5 238.8,227.7" fill="none" stroke="#222" stroke-width="1"/>
<circle cx="220" cy="222.3" r="1.35" fill="#111"/>
<line x1="36.3" y1="368.2" x2="79.5" y2="368.2" stroke="#111" stroke-width="0.9"/>
<text x="57.9" y="376.63" font-size="7.3" text-anchor="middle" fill="#1a1a1a">TPO</text>
<line x1="90.5" y1="368.2" x2="133.5" y2="368.2" stroke="#111" stroke-width="0.9"/>
<text x="112" y="376.63" font-size="7.3" text-anchor="middle" fill="#1a1a1a">CCL28</text>
<line x1="143.5" y1="368.2" x2="187.5" y2="368.2" stroke="#111" stroke-width="0.9"/>
<text x="165.5" y="376.63" font-size="7.3" text-anchor="middle" fill="#1a1a1a">TPO</text>
<line x1="198" y1="368.2" x2="241.5" y2="368.2" stroke="#111" stroke-width="0.9"/>
<text x="219.75" y="376.63" font-size="7.3" text-anchor="middle" fill="#1a1a1a">CCL28</text>
<text x="7.3" y="376.63" font-size="7.3" text-anchor="start" fill="#1a1a1a">[ng/mL]</text>
<text x="275.3" y="225" font-size="13.4" font-weight="bold" fill="#000" style="stroke-width:0.35px;stroke:#000">D</text>
<line x1="304.3" y1="233.6" x2="304.3" y2="320.6" stroke="#666" stroke-width="1.5"/>
<line x1="304.3" y1="320.6" x2="341.5" y2="320.6" stroke="#666" stroke-width="1.5"/>
<line x1="348.5" y1="320.6" x2="389.5" y2="320.6" stroke="#666" stroke-width="1.5"/>
<line x1="302.5" y1="320.6" x2="304.3" y2="320.6" stroke="#666" stroke-width="0.9"/>
<text x="301.6" y="322.58" font-size="6.6" text-anchor="end" fill="#1a1a1a">0</text>
<line x1="302.5" y1="303.22" x2="304.3" y2="303.22" stroke="#666" stroke-width="0.9"/>
<text x="301.6" y="305.2" font-size="6.6" text-anchor="end" fill="#1a1a1a">1000</text>
<line x1="302.5" y1="285.84" x2="304.3" y2="285.84" stroke="#666" stroke-width="0.9"/>
<text x="301.6" y="287.82" font-size="6.6" text-anchor="end" fill="#1a1a1a">2000</text>
<line x1="302.5" y1="268.46" x2="304.3" y2="268.46" stroke="#666" stroke-width="0.9"/>
<text x="301.6" y="270.44" font-size="6.6" text-anchor="end" fill="#1a1a1a">3000</text>
<line x1="302.5" y1="251.08" x2="304.3" y2="251.08" stroke="#666" stroke-width="0.9"/>
<text x="301.6" y="253.06" font-size="6.6" text-anchor="end" fill="#1a1a1a">4000</text>
<line x1="302.5" y1="233.7" x2="304.3" y2="233.7" stroke="#666" stroke-width="0.9"/>
<text x="301.6" y="235.68" font-size="6.6" text-anchor="end" fill="#1a1a1a">5000</text>
<text transform="translate(281.66,270) rotate(-90)" font-size="7.4" text-anchor="middle" fill="#1a1a1a">Cell number</text>
<line x1="304.3" y1="303.2" x2="389.5" y2="303.2" stroke="#9a9a9a" stroke-width="0.6"/>
<rect x="307.3" y="298.4" width="7.4" height="22.2" fill="#d4d4d4" stroke="#111" stroke-width="0.8"/>
<rect x="307.3" y="307.2" width="7.4" height="13.4" fill="#0a0a0a"/>
<line x1="311" y1="298.4" x2="311" y2="293.7" stroke="#111" stroke-width="0.9"/>
<line x1="308.78" y1="293.7" x2="313.22" y2="293.7" stroke="#111" stroke-width="0.9"/>
<line x1="311" y1="307.2" x2="311" y2="303.6" stroke="#111" stroke-width="0.9"/>
<line x1="308.78" y1="303.6" x2="313.22" y2="303.6" stroke="#111" stroke-width="0.9"/>
<line x1="311" y1="320.6" x2="311" y2="322.2" stroke="#666" stroke-width="0.8"/>
<rect x="318.5" y="259.1" width="8" height="61.5" fill="#d4d4d4" stroke="#111" stroke-width="0.8"/>
<rect x="318.5" y="278.7" width="8" height="41.9" fill="#0a0a0a"/>
<line x1="322.5" y1="259.1" x2="322.5" y2="250.5" stroke="#111" stroke-width="0.9"/>
<line x1="320.1" y1="250.5" x2="324.9" y2="250.5" stroke="#111" stroke-width="0.9"/>
<line x1="322.5" y1="278.7" x2="322.5" y2="268.6" stroke="#111" stroke-width="0.9"/>
<line x1="320.1" y1="268.6" x2="324.9" y2="268.6" stroke="#111" stroke-width="0.9"/>
<line x1="322.5" y1="320.6" x2="322.5" y2="322.2" stroke="#666" stroke-width="0.8"/>
<rect x="330.3" y="258.3" width="7.7" height="62.3" fill="#d4d4d4" stroke="#111" stroke-width="0.8"/>
<rect x="330.3" y="278.7" width="7.7" height="41.9" fill="#0a0a0a"/>
<line x1="334.15" y1="258.3" x2="334.15" y2="252.2" stroke="#111" stroke-width="0.9"/>
<line x1="331.84" y1="252.2" x2="336.46" y2="252.2" stroke="#111" stroke-width="0.9"/>
<line x1="334.15" y1="278.7" x2="334.15" y2="275.6" stroke="#111" stroke-width="0.9"/>
<line x1="331.84" y1="275.6" x2="336.46" y2="275.6" stroke="#111" stroke-width="0.9"/>
<line x1="334.15" y1="320.6" x2="334.15" y2="322.2" stroke="#666" stroke-width="0.8"/>
<rect x="353.1" y="305.5" width="7.8" height="15.1" fill="#d4d4d4" stroke="#111" stroke-width="0.8"/>
<rect x="353.1" y="306.8" width="7.8" height="13.8" fill="#0a0a0a"/>
<line x1="357" y1="305.5" x2="357" y2="305" stroke="#111" stroke-width="0.9"/>
<line x1="354.66" y1="305" x2="359.34" y2="305" stroke="#111" stroke-width="0.9"/>
<line x1="357" y1="320.6" x2="357" y2="322.2" stroke="#666" stroke-width="0.8"/>
<rect x="364.5" y="279.5" width="7.8" height="41.1" fill="#d4d4d4" stroke="#111" stroke-width="0.8"/>
<rect x="364.5" y="285" width="7.8" height="35.6" fill="#0a0a0a"/>
<line x1="368.4" y1="279.5" x2="368.4" y2="278.7" stroke="#111" stroke-width="0.9"/>
<line x1="366.06" y1="278.7" x2="370.74" y2="278.7" stroke="#111" stroke-width="0.9"/>
<line x1="368.4" y1="320.6" x2="368.4" y2="322.2" stroke="#666" stroke-width="0.8"/>
<rect x="376.1" y="279" width="8.2" height="41.6" fill="#d4d4d4" stroke="#111" stroke-width="0.8"/>
<rect x="376.1" y="284.2" width="8.2" height="36.4" fill="#0a0a0a"/>
<line x1="380.2" y1="279" x2="380.2" y2="273.3" stroke="#111" stroke-width="0.9"/>
<line x1="377.74" y1="273.3" x2="382.66" y2="273.3" stroke="#111" stroke-width="0.9"/>
<line x1="380.2" y1="320.6" x2="380.2" y2="322.2" stroke="#666" stroke-width="0.8"/>
<polyline points="310.4,245.7 310.4,243.5 323,243.5 323,245.7" fill="none" stroke="#222" stroke-width="1"/>
<circle cx="316.7" cy="240.3" r="1.35" fill="#111"/>
<polyline points="310.4,234.7 310.4,232.5 334.3,232.5 334.3,234.7" fill="none" stroke="#222" stroke-width="1"/>
<circle cx="318.25" cy="229.3" r="1.35" fill="#111"/>
<circle cx="322.35" cy="229.3" r="1.35" fill="#111"/>
<circle cx="326.45" cy="229.3" r="1.35" fill="#111"/>
<polyline points="357.1,245.7 357.1,243.5 369.5,243.5 369.5,245.7" fill="none" stroke="#222" stroke-width="1"/>
<text x="363.3" y="242.39" font-size="7.2" text-anchor="middle" fill="#1a1a1a">na</text>
<polyline points="357.1,234.7 357.1,232.5 380.4,232.5 380.4,234.7" fill="none" stroke="#222" stroke-width="1"/>
<text x="368.75" y="231.39" font-size="7.2" text-anchor="middle" fill="#1a1a1a">na</text>
<text transform="translate(313.43,322.4) rotate(-90)" font-size="6.75" text-anchor="end" fill="#1a1a1a">SCF</text>
<text transform="translate(324.93,322.4) rotate(-90)" font-size="6.75" text-anchor="end" fill="#1a1a1a">SCF + TPO</text>
<text transform="translate(336.58,322.4) rotate(-90)" font-size="6.75" text-anchor="end" fill="#1a1a1a">SCF + CCL28</text>
<text transform="translate(359.43,322.4) rotate(-90)" font-size="6.75" text-anchor="end" fill="#1a1a1a">SCF</text>
<text transform="translate(370.83,322.4) rotate(-90)" font-size="6.75" text-anchor="end" fill="#1a1a1a">SCF + TPO</text>
<text transform="translate(382.63,322.4) rotate(-90)" font-size="6.75" text-anchor="end" fill="#1a1a1a">SCF + CCL28</text>
<line x1="306.9" y1="367.9" x2="336.9" y2="367.9" stroke="#111" stroke-width="0.9"/>
<line x1="353.7" y1="367.9" x2="383.5" y2="367.9" stroke="#111" stroke-width="0.9"/>
<text x="322.2" y="376" font-size="6.4" text-anchor="middle" fill="#1a1a1a">FL</text>
<text x="368.6" y="376" font-size="6.4" text-anchor="middle" fill="#1a1a1a">BM (n=2)</text>
<text x="414.3" y="225.4" font-size="13.4" font-weight="bold" fill="#000" style="stroke-width:0.35px;stroke:#000">E</text>
<line x1="440.1" y1="233.7" x2="440.1" y2="319.7" stroke="#666" stroke-width="1.5"/>
<line x1="440.1" y1="319.7" x2="497.4" y2="319.7" stroke="#666" stroke-width="1.5"/>
<line x1="438.3" y1="319.7" x2="440.1" y2="319.7" stroke="#666" stroke-width="0.9"/>
<text x="437.6" y="321.93" font-size="6.2" text-anchor="end" fill="#1a1a1a">0</text>
<line x1="438.3" y1="307.41" x2="440.1" y2="307.41" stroke="#666" stroke-width="0.9"/>
<text x="437.6" y="309.65" font-size="6.2" text-anchor="end" fill="#1a1a1a">50</text>
<line x1="438.3" y1="295.13" x2="440.1" y2="295.13" stroke="#666" stroke-width="0.9"/>
<text x="437.6" y="297.36" font-size="6.2" text-anchor="end" fill="#1a1a1a">100</text>
<line x1="438.3" y1="282.84" x2="440.1" y2="282.84" stroke="#666" stroke-width="0.9"/>
<text x="437.6" y="285.07" font-size="6.2" text-anchor="end" fill="#1a1a1a">150</text>
<line x1="438.3" y1="270.56" x2="440.1" y2="270.56" stroke="#666" stroke-width="0.9"/>
<text x="437.6" y="272.79" font-size="6.2" text-anchor="end" fill="#1a1a1a">200</text>
<line x1="438.3" y1="258.27" x2="440.1" y2="258.27" stroke="#666" stroke-width="0.9"/>
<text x="437.6" y="260.5" font-size="6.2" text-anchor="end" fill="#1a1a1a">250</text>
<line x1="438.3" y1="245.99" x2="440.1" y2="245.99" stroke="#666" stroke-width="0.9"/>
<text x="437.6" y="248.22" font-size="6.2" text-anchor="end" fill="#1a1a1a">300</text>
<line x1="438.3" y1="233.7" x2="440.1" y2="233.7" stroke="#666" stroke-width="0.9"/>
<text x="437.6" y="235.93" font-size="6.2" text-anchor="end" fill="#1a1a1a">350</text>
<text transform="translate(420.72,276) rotate(-90)" font-size="7" text-anchor="middle" fill="#1a1a1a">CFCs per 100 input cells</text>
<rect x="443.6" y="302.4" width="13.1" height="17.3" fill="#0a0a0a"/>
<line x1="450.15" y1="302.4" x2="450.15" y2="296.3" stroke="#111" stroke-width="1"/>
<line x1="447.75" y1="296.3" x2="452.55" y2="296.3" stroke="#111" stroke-width="1"/>
<line x1="450.15" y1="319.7" x2="450.15" y2="321.3" stroke="#666" stroke-width="0.8"/>
<rect x="463.1" y="260.3" width="13" height="59.4" fill="#0a0a0a"/>
<line x1="469.6" y1="260.3" x2="469.6" y2="255.1" stroke="#111" stroke-width="1"/>
<line x1="467.2" y1="255.1" x2="472" y2="255.1" stroke="#111" stroke-width="1"/>
<line x1="469.6" y1="319.7" x2="469.6" y2="321.3" stroke="#666" stroke-width="0.8"/>
<rect x="482" y="260.3" width="13.3" height="59.4" fill="#0a0a0a"/>
<line x1="488.65" y1="260.3" x2="488.65" y2="253.5" stroke="#111" stroke-width="1"/>
<line x1="486.25" y1="253.5" x2="491.05" y2="253.5" stroke="#111" stroke-width="1"/>
<line x1="488.65" y1="319.7" x2="488.65" y2="321.3" stroke="#666" stroke-width="0.8"/>
<polyline points="449.2,245.7 449.2,243.5 469.2,243.5 469.2,245.7" fill="none" stroke="#222" stroke-width="1"/>
<circle cx="457.15" cy="240.3" r="1.35" fill="#111"/>
<circle cx="461.25" cy="240.3" r="1.35" fill="#111"/>
<polyline points="449.2,235.7 449.2,233.5 488.4,233.5 488.4,235.7" fill="none" stroke="#222" stroke-width="1"/>
<circle cx="466.75" cy="230.3" r="1.35" fill="#111"/>
<circle cx="470.85" cy="230.3" r="1.35" fill="#111"/>
<text transform="translate(452.58,322) rotate(-90)" font-size="6.75" text-anchor="end" fill="#1a1a1a">SCF</text>
<text transform="translate(472.03,322) rotate(-90)" font-size="6.75" text-anchor="end" fill="#1a1a1a">SCF + TPO</text>
<text transform="translate(491.08,322) rotate(-90)" font-size="6.75" text-anchor="end" fill="#1a1a1a">SCF + CCL28</text>
<text x="0.7" y="397.5" font-size="13.4" font-weight="bold" fill="#000" style="stroke-width:0.35px;stroke:#000">F</text>
<line x1="34.6" y1="406.5" x2="34.6" y2="494.7" stroke="#666" stroke-width="1.5"/>
<line x1="34.6" y1="494.7" x2="96.2" y2="494.7" stroke="#666" stroke-width="1.5"/>
<line x1="32.8" y1="494.7" x2="34.6" y2="494.7" stroke="#666" stroke-width="0.9"/>
<text x="32" y="497.04" font-size="6.5" text-anchor="end" fill="#1a1a1a">0</text>
<line x1="32.8" y1="465.3" x2="34.6" y2="465.3" stroke="#666" stroke-width="0.9"/>
<text x="32" y="467.64" font-size="6.5" text-anchor="end" fill="#1a1a1a">10000</text>
<line x1="32.8" y1="435.9" x2="34.6" y2="435.9" stroke="#666" stroke-width="0.9"/>
<text x="32" y="438.24" font-size="6.5" text-anchor="end" fill="#1a1a1a">20000</text>
<line x1="32.8" y1="406.5" x2="34.6" y2="406.5" stroke="#666" stroke-width="0.9"/>
<text x="32" y="408.84" font-size="6.5" text-anchor="end" fill="#1a1a1a">30000</text>
<text transform="translate(7.11,449.6) rotate(-90)" font-size="7.8" text-anchor="middle" fill="#1a1a1a">Cell number</text>
<line x1="34.6" y1="465.4" x2="97" y2="465.4" stroke="#111" stroke-width="0.8" stroke-dasharray="1.3,1.1"/>
<rect x="38.5" y="435.6" width="13.9" height="59.1" fill="#d4d4d4" stroke="#111" stroke-width="0.8"/>
<rect x="38.5" y="460.5" width="13.9" height="34.2" fill="#0a0a0a"/>
<line x1="45.45" y1="435.6" x2="45.45" y2="428.3" stroke="#111" stroke-width="0.9"/>
<line x1="41.28" y1="428.3" x2="49.62" y2="428.3" stroke="#111" stroke-width="0.9"/>
<line x1="45.45" y1="460.5" x2="45.45" y2="451.7" stroke="#111" stroke-width="0.9"/>
<line x1="41.28" y1="451.7" x2="49.62" y2="451.7" stroke="#111" stroke-width="0.9"/>
<line x1="45.45" y1="494.7" x2="45.45" y2="496.3" stroke="#666" stroke-width="0.8"/>
<rect x="58.9" y="482" width="13.9" height="12.7" fill="#d4d4d4" stroke="#111" stroke-width="0.8"/>
<rect x="58.9" y="485" width="13.9" height="9.7" fill="#0a0a0a"/>
<line x1="65.85" y1="482" x2="65.85" y2="481" stroke="#111" stroke-width="0.9"/>
<line x1="61.68" y1="481" x2="70.02" y2="481" stroke="#111" stroke-width="0.9"/>
<line x1="65.85" y1="494.7" x2="65.85" y2="496.3" stroke="#666" stroke-width="0.8"/>
<rect x="79.7" y="477.2" width="14.6" height="17.5" fill="#d4d4d4" stroke="#111" stroke-width="0.8"/>
<rect x="79.7" y="482.4" width="14.6" height="12.3" fill="#0a0a0a"/>
<line x1="87" y1="477.2" x2="87" y2="474.3" stroke="#111" stroke-width="0.9"/>
<line x1="82.62" y1="474.3" x2="91.38" y2="474.3" stroke="#111" stroke-width="0.9"/>
<line x1="87" y1="494.7" x2="87" y2="496.3" stroke="#666" stroke-width="0.8"/>
<polyline points="45.2,418.7 45.2,416.5 66.3,416.5 66.3,418.7" fill="none" stroke="#222" stroke-width="1"/>
<circle cx="55.75" cy="413.3" r="1.35" fill="#111"/>
<polyline points="45.2,409.7 45.2,407.5 87.5,407.5 87.5,409.7" fill="none" stroke="#222" stroke-width="1"/>
<circle cx="66.35" cy="404.3" r="1.35" fill="#111"/>
<text x="45.45" y="503.85" font-size="6.8" text-anchor="middle" fill="#1a1a1a">SCF</text>
<text x="65.85" y="503.85" font-size="6.8" text-anchor="middle" fill="#1a1a1a">TPO</text>
<text x="87" y="503.85" font-size="6.8" text-anchor="middle" fill="#1a1a1a">CCL28</text>
<text x="109.1" y="397.8" font-size="13.4" font-weight="bold" fill="#000" style="stroke-width:0.35px;stroke:#000">G</text>
<line x1="133.3" y1="406.5" x2="133.3" y2="495.2" stroke="#666" stroke-width="1.5"/>
<line x1="133.3" y1="495.2" x2="196.1" y2="495.2" stroke="#666" stroke-width="1.5"/>
<line x1="131.5" y1="495.2" x2="133.3" y2="495.2" stroke="#666" stroke-width="0.9"/>
<text x="130.9" y="497.43" font-size="6.2" text-anchor="end" fill="#1a1a1a">0</text>
<line x1="131.5" y1="473.05" x2="133.3" y2="473.05" stroke="#666" stroke-width="0.9"/>
<text x="130.9" y="475.28" font-size="6.2" text-anchor="end" fill="#1a1a1a">10</text>
<line x1="131.5" y1="450.9" x2="133.3" y2="450.9" stroke="#666" stroke-width="0.9"/>
<text x="130.9" y="453.13" font-size="6.2" text-anchor="end" fill="#1a1a1a">20</text>
<line x1="131.5" y1="428.75" x2="133.3" y2="428.75" stroke="#666" stroke-width="0.9"/>
<text x="130.9" y="430.98" font-size="6.2" text-anchor="end" fill="#1a1a1a">30</text>
<line x1="131.5" y1="406.6" x2="133.3" y2="406.6" stroke="#666" stroke-width="0.9"/>
<text x="130.9" y="408.83" font-size="6.2" text-anchor="end" fill="#1a1a1a">40</text>
<text transform="translate(116.92,451) rotate(-90)" font-size="7" text-anchor="middle" fill="#1a1a1a">CFCs per 100 input cells</text>
<rect x="136.9" y="434.6" width="14.3" height="60.6" fill="#fff"/>
<rect x="136.9" y="434.6" width="14.3" height="14.8" fill="#d6d6d6"/>
<rect x="136.9" y="434.6" width="14.3" height="1" fill="#777"/>
<rect x="136.9" y="434.6" width="14.3" height="60.6" fill="none" stroke="#111" stroke-width="0.8"/>
<line x1="136.9" y1="449.4" x2="151.2" y2="449.4" stroke="#333" stroke-width="0.6"/>
<line x1="136.9" y1="435.1" x2="151.2" y2="435.1" stroke="#333" stroke-width="1.3"/>
<line x1="144.05" y1="449.4" x2="144.05" y2="425.8" stroke="#222" stroke-width="0.9"/>
<line x1="141.65" y1="425.8" x2="146.45" y2="425.8" stroke="#222" stroke-width="0.9"/>
<line x1="142.05" y1="428.2" x2="146.05" y2="428.2" stroke="#222" stroke-width="0.9"/>
<line x1="144.05" y1="495.2" x2="144.05" y2="496.8" stroke="#666" stroke-width="0.8"/>
<rect x="157.7" y="480.1" width="14.2" height="15.1" fill="#fff"/>
<rect x="157.7" y="480.1" width="14.2" height="6.3" fill="#d6d6d6"/>
<rect x="157.7" y="480.1" width="14.2" height="0.9" fill="#777"/>
<rect x="157.7" y="480.1" width="14.2" height="15.1" fill="none" stroke="#111" stroke-width="0.8"/>
<line x1="157.7" y1="486.4" x2="171.9" y2="486.4" stroke="#333" stroke-width="0.6"/>
<line x1="157.7" y1="480.6" x2="171.9" y2="480.6" stroke="#333" stroke-width="1.3"/>
<line x1="164.8" y1="486.4" x2="164.8" y2="476.3" stroke="#222" stroke-width="0.9"/>
<line x1="162.4" y1="476.3" x2="167.2" y2="476.3" stroke="#222" stroke-width="0.9"/>
<line x1="162.8" y1="478.7" x2="166.8" y2="478.7" stroke="#222" stroke-width="0.9"/>
<line x1="164.8" y1="495.2" x2="164.8" y2="496.8" stroke="#666" stroke-width="0.8"/>
<rect x="178" y="448" width="14.3" height="47.2" fill="#fff"/>
<rect x="178" y="448" width="14.3" height="14.5" fill="#d6d6d6"/>
<rect x="178" y="448" width="14.3" height="1" fill="#777"/>
<rect x="178" y="448" width="14.3" height="47.2" fill="none" stroke="#111" stroke-width="0.8"/>
<line x1="178" y1="462.5" x2="192.3" y2="462.5" stroke="#333" stroke-width="0.6"/>
<line x1="178" y1="448.5" x2="192.3" y2="448.5" stroke="#333" stroke-width="1.3"/>
<line x1="185.15" y1="462.5" x2="185.15" y2="440.4" stroke="#222" stroke-width="0.9"/>
<line x1="182.75" y1="440.4" x2="187.55" y2="440.4" stroke="#222" stroke-width="0.9"/>
<line x1="183.15" y1="442.8" x2="187.15" y2="442.8" stroke="#222" stroke-width="0.9"/>
<line x1="185.15" y1="495.2" x2="185.15" y2="496.8" stroke="#666" stroke-width="0.8"/>
<polyline points="144.6,418.7 144.6,416.5 166,416.5 166,418.7" fill="none" stroke="#222" stroke-width="1"/>
<text x="155.3" y="415.39" font-size="7.2" text-anchor="middle" fill="#1a1a1a">ns</text>
<polyline points="144.6,409.7 144.6,407.5 186.5,407.5 186.5,409.7" fill="none" stroke="#222" stroke-width="1"/>
<text x="165.55" y="406.39" font-size="7.2" text-anchor="middle" fill="#1a1a1a">ns</text>
<text x="144.05" y="503.85" font-size="6.8" text-anchor="middle" fill="#1a1a1a">SCF</text>
<text x="164.8" y="503.85" font-size="6.8" text-anchor="middle" fill="#1a1a1a">TPO</text>
<text x="185.15" y="503.85" font-size="6.8" text-anchor="middle" fill="#1a1a1a">CCL28</text>
<rect x="198.3" y="406.4" width="10.5" height="6.1" fill="#fff" stroke="#111" stroke-width="0.8"/>
<text x="214.2" y="412.23" font-size="7.3" text-anchor="start" fill="#1a1a1a">Myeloid</text>
<rect x="198.3" y="417.2" width="10.5" height="6.1" fill="#d6d6d6" stroke="#111" stroke-width="0.8"/>
<text x="214.2" y="423.03" font-size="7.3" text-anchor="start" fill="#1a1a1a">Erythroid</text>
<rect x="198.3" y="427.3" width="10.5" height="6.1" fill="#777" stroke="#111" stroke-width="0.8"/>
<text x="214.2" y="433.13" font-size="7.3" text-anchor="start" fill="#1a1a1a">Mix</text>
<text x="275.3" y="397.3" font-size="13.4" font-weight="bold" fill="#000" style="stroke-width:0.35px;stroke:#000">H</text>
<rect x="288.2" y="399.5" width="112.8" height="113.2" fill="#e9e9e9"/>
<rect x="302.3" y="405.4" width="96.1" height="44.4" fill="#fff"/>
<line x1="302.3" y1="408.5" x2="398.4" y2="408.5" stroke="#f3f0f6" stroke-width="0.4"/>
<line x1="302.3" y1="412.5" x2="398.4" y2="412.5" stroke="#f3f0f6" stroke-width="0.4"/>
<line x1="302.3" y1="416.5" x2="398.4" y2="416.5" stroke="#f3f0f6" stroke-width="0.4"/>
<line x1="302.3" y1="420.5" x2="398.4" y2="420.5" stroke="#f3f0f6" stroke-width="0.4"/>
<line x1="302.3" y1="424.5" x2="398.4" y2="424.5" stroke="#f3f0f6" stroke-width="0.4"/>
<line x1="302.3" y1="428.5" x2="398.4" y2="428.5" stroke="#f3f0f6" stroke-width="0.4"/>
<line x1="302.3" y1="432.5" x2="398.4" y2="432.5" stroke="#f3f0f6" stroke-width="0.4"/>
<line x1="302.3" y1="436.5" x2="398.4" y2="436.5" stroke="#f3f0f6" stroke-width="0.4"/>
<line x1="302.3" y1="440.5" x2="398.4" y2="440.5" stroke="#f3f0f6" stroke-width="0.4"/>
<line x1="302.3" y1="444.5" x2="398.4" y2="444.5" stroke="#f3f0f6" stroke-width="0.4"/>
<line x1="302.3" y1="448.5" x2="398.4" y2="448.5" stroke="#f3f0f6" stroke-width="0.4"/>
<line x1="302.3" y1="421.8" x2="398.4" y2="421.8" stroke="#b8b8b8" stroke-width="0.5"/>
<text x="345.65" y="403.75" font-size="4.3" text-anchor="middle" font-weight="bold" fill="#222">Enrichment plot: CYCLE</text>
<text x="301.3" y="409.74" font-size="2.9" text-anchor="end" style="stroke:none" fill="#555">0.50</text>
<text x="301.3" y="413.94" font-size="2.9" text-anchor="end" style="stroke:none" fill="#555">0.45</text>
<text x="301.3" y="418.14" font-size="2.9" text-anchor="end" style="stroke:none" fill="#555">0.40</text>
<text x="301.3" y="422.34" font-size="2.9" text-anchor="end" style="stroke:none" fill="#555">-0.05</text>
<text x="301.3" y="426.54" font-size="2.9" text-anchor="end" style="stroke:none" fill="#555">-0.10</text>
<text x="301.3" y="430.74" font-size="2.9" text-anchor="end" style="stroke:none" fill="#555">-0.15</text>
<text x="301.3" y="434.94" font-size="2.9" text-anchor="end" style="stroke:none" fill="#555">-0.20</text>
<text x="301.3" y="439.14" font-size="2.9" text-anchor="end" style="stroke:none" fill="#555">-0.25</text>
<text x="301.3" y="443.34" font-size="2.9" text-anchor="end" style="stroke:none" fill="#555">-0.30</text>
<text x="301.3" y="447.54" font-size="2.9" text-anchor="end" style="stroke:none" fill="#555">-0.35</text>
<text transform="translate(293.08,427.8) rotate(-90)" font-size="3" text-anchor="middle" style="stroke:none" fill="#444">Enrichment score (ES)</text>
<polyline points="302.3,420.8 302.38,420.32 302.5,419.63 302.63,418.83 302.78,417.99 302.94,417.19 303.1,416.5 303.25,415.94 303.4,415.43 303.55,414.96 303.73,414.51 303.94,414.07 304.2,413.6 304.52,413.11 304.89,412.6 305.29,412.1 305.71,411.61 306.16,411.14 306.6,410.7 307.06,410.29 307.53,409.9 308.03,409.52 308.52,409.18 309.02,408.87 309.5,408.6 309.97,408.37 310.43,408.17 310.88,408 311.34,407.87 311.81,407.77 312.3,407.7 312.8,407.67 313.31,407.69 313.84,407.74 314.37,407.81 314.93,407.9 315.5,408 316.06,408.1 316.61,408.2 317.17,408.33 317.78,408.47 318.48,408.66 319.3,408.9 320.22,409.14 321.2,409.35 322.27,409.61 323.44,409.96 324.75,410.47 326.2,411.2 327.85,412.19 329.69,413.4 331.66,414.76 333.69,416.23 335.72,417.73 337.7,419.2 339.63,420.68 341.56,422.21 343.5,423.77 345.44,425.36 347.37,426.94 349.3,428.5 351.22,430.06 353.14,431.66 355.05,433.24 356.96,434.8 358.88,436.3 360.8,437.7 362.78,439.04 364.83,440.35 366.89,441.59 368.88,442.75 370.74,443.8 372.4,444.7 373.85,445.45 375.15,446.08 376.31,446.59 377.37,447 378.36,447.33 379.3,447.6 380.17,447.78 380.96,447.86 381.66,447.86 382.31,447.8 382.92,447.71 383.5,447.6 384.04,447.48 384.51,447.32 384.95,447.13 385.36,446.89 385.77,446.62 386.2,446.3 386.64,445.94 387.09,445.54 387.54,445.1 387.97,444.61 388.4,444.08 388.8,443.5 389.17,442.88 389.51,442.22 389.84,441.51 390.17,440.75 390.52,439.91 390.9,439 391.32,438.02 391.78,436.98 392.25,435.87 392.72,434.68 393.18,433.39 393.6,432 394.01,430.34 394.42,428.4 394.82,426.36 395.18,424.42 395.48,422.77 395.7,421.6" fill="none" stroke="#55d455" stroke-width="1.4" stroke-linejoin="round"/>
<rect x="302.3" y="449.8" width="96.1" height="14.9" fill="#fff"/>
<rect x="302.3" y="450" width="1.2" height="14.6" fill="#fff"/>
<rect x="303.5" y="450" width="1.2" height="14.6" fill="#555"/>
<rect x="304.7" y="450" width="0.7" height="14.6" fill="#555"/>
<rect x="305.4" y="450" width="1.2" height="14.6" fill="#888"/>
<rect x="306.6" y="450" width="0.7" height="14.6" fill="#1a1a1a"/>
<rect x="307.3" y="450" width="0.7" height="14.6" fill="#888"/>
<rect x="308" y="450" width="0.5" height="14.6" fill="#333"/>
<rect x="308.5" y="450" width="1.2" height="14.6" fill="#555"/>
<rect x="309.7" y="450" width="0.7" height="14.6" fill="#888"/>
<rect x="310.4" y="450" width="1.6" height="14.6" fill="#000"/>
<rect x="312" y="450" width="0.7" height="14.6" fill="#c8c8c8"/>
<rect x="312.7" y="450" width="1.2" height="14.6" fill="#555"/>
<rect x="313.9" y="450" width="0.7" height="14.6" fill="#6a6a6a"/>
<rect x="314.6" y="450" width="0.9" height="14.6" fill="#6a6a6a"/>
<rect x="315.5" y="450" width="0.5" height="14.6" fill="#1a1a1a"/>
<rect x="316" y="450" width="1.2" height="14.6" fill="#c8c8c8"/>
<rect x="317.2" y="450" width="0.9" height="14.6" fill="#0a0a0a"/>
<rect x="318.1" y="450" width="1.6" height="14.6" fill="#000"/>
<rect x="319.7" y="450" width="1.6" height="14.6" fill="#333"/>
<rect x="321.3" y="450" width="0.5" height="14.6" fill="#fff"/>
<rect x="321.8" y="450" width="0.5" height="14.6" fill="#c8c8c8"/>
<rect x="322.3" y="450" width="0.7" height="14.6" fill="#000"/>
<rect x="323" y="450" width="1.2" height="14.6" fill="#6a6a6a"/>
<rect x="324.2" y="450" width="1.2" height="14.6" fill="#555"/>
<rect x="325.4" y="450" width="0.7" height="14.6" fill="#1a1a1a"/>
<rect x="326.1" y="450" width="0.9" height="14.6" fill="#1a1a1a"/>
<rect x="327" y="450" width="0.5" height="14.6" fill="#c8c8c8"/>
<rect x="327.5" y="450" width="0.7" height="14.6" fill="#000"/>
<rect x="328.2" y="450" width="0.5" height="14.6" fill="#888"/>
<rect x="328.7" y="450" width="1.2" height="14.6" fill="#555"/>
<rect x="329.9" y="450" width="0.7" height="14.6" fill="#0a0a0a"/>
<rect x="330.6" y="450" width="0.7" height="14.6" fill="#333"/>
<rect x="331.3" y="450" width="0.5" height="14.6" fill="#0a0a0a"/>
<rect x="331.8" y="450" width="0.5" height="14.6" fill="#888"/>
<rect x="332.3" y="450" width="1.6" height="14.6" fill="#000"/>
<rect x="333.9" y="450" width="0.7" height="14.6" fill="#888"/>
<rect x="334.6" y="450" width="1.6" height="14.6" fill="#000"/>
<rect x="336.2" y="450" width="0.5" height="14.6" fill="#e0e0e0"/>
<rect x="336.7" y="450" width="1.2" height="14.6" fill="#888"/>
<rect x="337.9" y="450" width="1.6" height="14.6" fill="#1a1a1a"/>
<rect x="339.5" y="450" width="1.2" height="14.6" fill="#000"/>
<rect x="340.7" y="450" width="0.7" height="14.6" fill="#0a0a0a"/>
<rect x="341.4" y="450" width="0.5" height="14.6" fill="#1a1a1a"/>
<rect x="341.9" y="450" width="1.6" height="14.6" fill="#555"/>
<rect x="343.5" y="450" width="1.2" height="14.6" fill="#e0e0e0"/>
<rect x="344.7" y="450" width="1.2" height="14.6" fill="#0a0a0a"/>
<rect x="345.9" y="450" width="0.9" height="14.6" fill="#e0e0e0"/>
<rect x="346.8" y="450" width="0.7" height="14.6" fill="#6a6a6a"/>
<rect x="347.5" y="450" width="1.6" height="14.6" fill="#333"/>
<rect x="349.1" y="450" width="1.2" height="14.6" fill="#333"/>
<rect x="350.3" y="450" width="0.5" height="14.6" fill="#000"/>
<rect x="350.8" y="450" width="1.6" height="14.6" fill="#e0e0e0"/>
<rect x="352.4" y="450" width="1.2" height="14.6" fill="#888"/>
<rect x="353.6" y="450" width="1.6" height="14.6" fill="#555"/>
<rect x="355.2" y="450" width="0.7" height="14.6" fill="#c8c8c8"/>
<rect x="355.9" y="450" width="0.7" height="14.6" fill="#555"/>
<rect x="356.6" y="450" width="1.6" height="14.6" fill="#1a1a1a"/>
<rect x="358.2" y="450" width="0.7" height="14.6" fill="#e0e0e0"/>
<rect x="358.9" y="450" width="0.5" height="14.6" fill="#333"/>
<rect x="359.4" y="450" width="1.2" height="14.6" fill="#000"/>
<rect x="360.6" y="450" width="0.7" height="14.6" fill="#555"/>
<rect x="361.3" y="450" width="1.6" height="14.6" fill="#c8c8c8"/>
<rect x="362.9" y="450" width="0.9" height="14.6" fill="#333"/>
<rect x="363.8" y="450" width="0.9" height="14.6" fill="#6a6a6a"/>
<rect x="364.7" y="450" width="1.6" height="14.6" fill="#0a0a0a"/>
<rect x="366.3" y="450" width="1.6" height="14.6" fill="#000"/>
<rect x="367.9" y="450" width="1.2" height="14.6" fill="#f4f4f4"/>
<rect x="369.1" y="450" width="0.5" height="14.6" fill="#6a6a6a"/>
<rect x="369.6" y="450" width="0.5" height="14.6" fill="#6a6a6a"/>
<rect x="370.1" y="450" width="0.9" height="14.6" fill="#000"/>
<rect x="371" y="450" width="0.5" height="14.6" fill="#1a1a1a"/>
<rect x="371.5" y="450" width="0.5" height="14.6" fill="#e0e0e0"/>
<rect x="372" y="450" width="0.9" height="14.6" fill="#6a6a6a"/>
<rect x="372.9" y="450" width="1.2" height="14.6" fill="#fff"/>
<rect x="374.1" y="450" width="0.5" height="14.6" fill="#c8c8c8"/>
<rect x="374.6" y="450" width="1.6" height="14.6" fill="#333"/>
<rect x="376.2" y="450" width="1.6" height="14.6" fill="#000"/>
<rect x="377.8" y="450" width="0.5" height="14.6" fill="#000"/>
<rect x="378.3" y="450" width="0.9" height="14.6" fill="#f4f4f4"/>
<rect x="379.2" y="450" width="1.2" height="14.6" fill="#fff"/>
<rect x="380.4" y="450" width="1.2" height="14.6" fill="#555"/>
<rect x="381.6" y="450" width="0.5" height="14.6" fill="#555"/>
<rect x="382.1" y="450" width="0.5" height="14.6" fill="#000"/>
<rect x="382.6" y="450" width="1.2" height="14.6" fill="#6a6a6a"/>
<rect x="383.8" y="450" width="0.5" height="14.6" fill="#555"/>
<rect x="384.3" y="450" width="1.2" height="14.6" fill="#000"/>
<rect x="385.5" y="450" width="0.9" height="14.6" fill="#6a6a6a"/>
<rect x="386.4" y="450" width="1.6" height="14.6" fill="#0a0a0a"/>
<rect x="388" y="450" width="0.9" height="14.6" fill="#333"/>
<rect x="388.9" y="450" width="1.2" height="14.6" fill="#f4f4f4"/>
<rect x="390.1" y="450" width="1.2" height="14.6" fill="#0a0a0a"/>
<rect x="391.3" y="450" width="1.2" height="14.6" fill="#888"/>
<rect x="392.5" y="450" width="0.7" height="14.6" fill="#fff"/>
<rect x="393.2" y="450" width="0.7" height="14.6" fill="#1a1a1a"/>
<rect x="393.9" y="450" width="0.7" height="14.6" fill="#333"/>
<rect x="394.6" y="450" width="0.9" height="14.6" fill="#c8c8c8"/>
<rect x="395.5" y="450" width="0.2" height="14.6" fill="#f4f4f4"/>
<defs><linearGradient id="cb11" x1="0" x2="1" y1="0" y2="0"><stop offset="0" stop-color="#d61e2b"/><stop offset="0.35" stop-color="#e04050"/><stop offset="0.42" stop-color="#f2b8d4"/><stop offset="0.6" stop-color="#e6ddf2"/><stop offset="0.75" stop-color="#8f8fd6"/><stop offset="0.93" stop-color="#2020b8"/><stop offset="1" stop-color="#00006e"/></linearGradient></defs>
<rect x="302.3" y="464.7" width="93.4" height="3.7" fill="url(#cb11)"/>
<text x="303.3" y="470.74" font-size="2.6" text-anchor="start" style="stroke:none" fill="#d33">'na_pos' (positively correlated)</text>
<rect x="302.3" y="470.8" width="96.1" height="26.5" fill="#fff"/>
<line x1="302.3" y1="485.8" x2="395.7" y2="485.8" stroke="#ccc" stroke-width="0.4"/>
<polygon points="302.3,485.8 302.3,480.3 303.47,480.72 304.63,481.11 305.8,481.48 306.97,481.82 308.14,482.13 309.31,482.42 310.47,482.69 311.64,482.94 312.81,483.18 313.98,483.39 315.14,483.59 316.31,483.77 317.48,483.94 318.64,484.1 319.81,484.24 320.98,484.37 322.15,484.5 323.31,484.61 324.48,484.71 325.65,484.81 326.82,484.9 327.99,484.98 329.15,485.06 330.32,485.12 331.49,485.19 332.66,485.25 333.82,485.3 334.99,485.36 336.16,485.4 337.32,485.45 338.49,485.49 339.66,485.53 340.83,485.56 342,485.6 343.16,485.63 344.33,485.66 345.5,485.69 346.67,485.72 347.83,485.75 349,485.78 350.17,485.8 351.33,485.83 352.5,485.86 353.67,485.88 354.84,485.91 356,485.94 357.17,485.97 358.34,486 359.51,486.03 360.68,486.06 361.84,486.1 363.01,486.14 364.18,486.18 365.34,486.23 366.51,486.28 367.68,486.34 368.85,486.4 370.01,486.47 371.18,486.55 372.35,486.64 373.52,486.73 374.69,486.84 375.85,486.96 377.02,487.09 378.19,487.24 379.36,487.41 380.52,487.59 381.69,487.8 382.86,488.02 384.02,488.28 385.19,488.56 386.36,488.88 387.53,489.23 388.69,489.62 389.86,490.05 391.03,490.53 392.2,491.06 393.37,491.64 394.53,492.29 395.7,493 395.7,485.8" fill="#c8c8c8" stroke="#aaa" stroke-width="0.3"/>
<text x="301.1" y="474.44" font-size="2.9" text-anchor="end" style="stroke:none" fill="#555">1.0</text>
<text x="301.1" y="480.44" font-size="2.9" text-anchor="end" style="stroke:none" fill="#555">0.5</text>
<text x="301.1" y="486.84" font-size="2.9" text-anchor="end" style="stroke:none" fill="#555">0.0</text>
<text x="301.1" y="493.54" font-size="2.9" text-anchor="end" style="stroke:none" fill="#555">-0.5</text>
<line x1="351.8" y1="470.8" x2="351.8" y2="497.3" stroke="#ccc" stroke-width="0.4" stroke-dasharray="1,1"/>
<text x="349.8" y="484.17" font-size="2.7" text-anchor="middle" style="stroke:none" fill="#444">Zero cross at 11460</text>
<text x="351.8" y="496.74" font-size="2.6" text-anchor="start" style="stroke:none" fill="#44c">'na_neg' (negatively correlated)</text>
<text transform="translate(293.04,483.2) rotate(-90)" font-size="2.9" text-anchor="middle" style="stroke:none" fill="#444">Ranked list metric (Signal2Noise)</text>
<text x="302.3" y="501.37" font-size="2.7" text-anchor="middle" style="stroke:none" fill="#555">0</text>
<text x="313.98" y="501.37" font-size="2.7" text-anchor="middle" style="stroke:none" fill="#555">2,500</text>
<text x="325.65" y="501.37" font-size="2.7" text-anchor="middle" style="stroke:none" fill="#555">5,000</text>
<text x="337.32" y="501.37" font-size="2.7" text-anchor="middle" style="stroke:none" fill="#555">7,500</text>
<text x="349" y="501.37" font-size="2.7" text-anchor="middle" style="stroke:none" fill="#555">10,000</text>
<text x="360.68" y="501.37" font-size="2.7" text-anchor="middle" style="stroke:none" fill="#555">12,500</text>
<text x="372.35" y="501.37" font-size="2.7" text-anchor="middle" style="stroke:none" fill="#555">15,000</text>
<text x="384.02" y="501.37" font-size="2.7" text-anchor="middle" style="stroke:none" fill="#555">17,500</text>
<text x="395.7" y="501.37" font-size="2.7" text-anchor="middle" style="stroke:none" fill="#555">20,000</text>
<text x="349" y="505.24" font-size="2.9" text-anchor="middle" style="stroke:none" fill="#444">Rank in Ordered Dataset</text>
<rect x="304.6" y="507.2" width="80" height="4.2" fill="#f8f8f8" stroke="#777" stroke-width="0.4"/>
<line x1="308.3" y1="509.3" x2="313.3" y2="509.3" stroke="#4fd14f" stroke-width="0.8"/>
<text x="315.3" y="510.27" font-size="2.7" text-anchor="start" style="stroke:none" fill="#555">Enrichment profile  —  Hits          Ranking metric scores</text>
<rect x="406.4" y="399.5" width="113.3" height="113.2" fill="#e9e9e9"/>
<rect x="419.9" y="405.4" width="97.2" height="44.4" fill="#fff"/>
<line x1="419.9" y1="408.5" x2="517.1" y2="408.5" stroke="#f3f0f6" stroke-width="0.4"/>
<line x1="419.9" y1="412.5" x2="517.1" y2="412.5" stroke="#f3f0f6" stroke-width="0.4"/>
<line x1="419.9" y1="416.5" x2="517.1" y2="416.5" stroke="#f3f0f6" stroke-width="0.4"/>
<line x1="419.9" y1="420.5" x2="517.1" y2="420.5" stroke="#f3f0f6" stroke-width="0.4"/>
<line x1="419.9" y1="424.5" x2="517.1" y2="424.5" stroke="#f3f0f6" stroke-width="0.4"/>
<line x1="419.9" y1="428.5" x2="517.1" y2="428.5" stroke="#f3f0f6" stroke-width="0.4"/>
<line x1="419.9" y1="432.5" x2="517.1" y2="432.5" stroke="#f3f0f6" stroke-width="0.4"/>
<line x1="419.9" y1="436.5" x2="517.1" y2="436.5" stroke="#f3f0f6" stroke-width="0.4"/>
<line x1="419.9" y1="440.5" x2="517.1" y2="440.5" stroke="#f3f0f6" stroke-width="0.4"/>
<line x1="419.9" y1="444.5" x2="517.1" y2="444.5" stroke="#f3f0f6" stroke-width="0.4"/>
<line x1="419.9" y1="448.5" x2="517.1" y2="448.5" stroke="#f3f0f6" stroke-width="0.4"/>
<line x1="419.9" y1="439.5" x2="517.1" y2="439.5" stroke="#b8b8b8" stroke-width="0.5"/>
<text x="463.8" y="403.75" font-size="4.3" text-anchor="middle" font-weight="bold" fill="#222">Enrichment plot: CELL DEATH</text>
<text x="418.9" y="409.74" font-size="2.9" text-anchor="end" style="stroke:none" fill="#555">0.50</text>
<text x="418.9" y="413.94" font-size="2.9" text-anchor="end" style="stroke:none" fill="#555">0.45</text>
<text x="418.9" y="418.14" font-size="2.9" text-anchor="end" style="stroke:none" fill="#555">0.40</text>
<text x="418.9" y="422.34" font-size="2.9" text-anchor="end" style="stroke:none" fill="#555">-0.05</text>
<text x="418.9" y="426.54" font-size="2.9" text-anchor="end" style="stroke:none" fill="#555">-0.10</text>
<text x="418.9" y="430.74" font-size="2.9" text-anchor="end" style="stroke:none" fill="#555">-0.15</text>
<text x="418.9" y="434.94" font-size="2.9" text-anchor="end" style="stroke:none" fill="#555">-0.20</text>
<text x="418.9" y="439.14" font-size="2.9" text-anchor="end" style="stroke:none" fill="#555">-0.25</text>
<text x="418.9" y="443.34" font-size="2.9" text-anchor="end" style="stroke:none" fill="#555">-0.30</text>
<text x="418.9" y="447.54" font-size="2.9" text-anchor="end" style="stroke:none" fill="#555">-0.35</text>
<text transform="translate(411.28,427.8) rotate(-90)" font-size="3" text-anchor="middle" style="stroke:none" fill="#444">Enrichment score (ES)</text>
<polyline points="419.9,439 420.02,438.35 420.18,437.44 420.37,436.38 420.59,435.22 420.8,434.07 421,433 421.18,432.05 421.36,431.15 421.54,430.25 421.74,429.3 421.95,428.23 422.2,427 422.5,425.49 422.84,423.72 423.2,421.84 423.56,419.99 423.9,418.33 424.2,417 424.43,416 424.62,415.21 424.78,414.61 424.95,414.16 425.15,413.84 425.4,413.6 425.71,413.56 426.04,413.77 426.41,414.1 426.8,414.43 427.23,414.64 427.7,414.6 428.22,414.27 428.8,413.74 429.42,413.09 430.04,412.39 430.64,411.74 431.2,411.2 431.7,410.77 432.18,410.39 432.63,410.04 433.08,409.73 433.53,409.45 434,409.2 434.48,408.98 434.95,408.79 435.43,408.62 435.92,408.5 436.44,408.43 437,408.4 437.59,408.43 438.21,408.52 438.86,408.65 439.54,408.81 440.25,409 441,409.2 441.78,409.38 442.58,409.55 443.42,409.74 444.3,409.99 445.22,410.33 446.2,410.8 447.14,411.33 448.03,411.89 448.96,412.54 450.05,413.36 451.39,414.42 453.1,415.8 455.28,417.58 457.86,419.73 460.69,422.11 463.64,424.63 466.56,427.16 469.3,429.6 471.99,432.11 474.79,434.81 477.55,437.53 480.14,440.08 482.44,442.3 484.3,444 485.63,445.09 486.51,445.69 487.09,445.95 487.52,446.02 487.94,446.06 488.5,446.2 489.13,446.45 489.71,446.68 490.28,446.87 490.89,447.01 491.58,447.06 492.4,447 493.39,446.8 494.52,446.47 495.73,446.06 496.97,445.61 498.18,445.18 499.3,444.8 500.37,444.5 501.44,444.24 502.49,443.99 503.47,443.72 504.35,443.4 505.1,443 505.69,442.42 506.13,441.65 506.47,440.84 506.76,440.1 507.06,439.58 507.4,439.4 507.77,439.73 508.12,440.5 508.47,441.48 508.84,442.44 509.25,443.15 509.7,443.4 510.25,443.05 510.91,442.27 511.59,441.25 512.25,440.17 512.81,439.22 513.2,438.6" fill="none" stroke="#55d455" stroke-width="1.4" stroke-linejoin="round"/>
<rect x="419.9" y="449.8" width="97.2" height="14.9" fill="#fff"/>
<rect x="419.9" y="450" width="0.9" height="14.6" fill="#c8c8c8"/>
<rect x="420.8" y="450" width="0.5" height="14.6" fill="#333"/>
<rect x="421.3" y="450" width="1.2" height="14.6" fill="#0a0a0a"/>
<rect x="422.5" y="450" width="0.7" height="14.6" fill="#000"/>
<rect x="423.2" y="450" width="0.7" height="14.6" fill="#000"/>
<rect x="423.9" y="450" width="0.5" height="14.6" fill="#6a6a6a"/>
<rect x="424.4" y="450" width="1.2" height="14.6" fill="#555"/>
<rect x="425.6" y="450" width="1.2" height="14.6" fill="#000"/>
<rect x="426.8" y="450" width="0.7" height="14.6" fill="#f4f4f4"/>
<rect x="427.5" y="450" width="0.7" height="14.6" fill="#6a6a6a"/>
<rect x="428.2" y="450" width="0.9" height="14.6" fill="#888"/>
<rect x="429.1" y="450" width="0.9" height="14.6" fill="#f4f4f4"/>
<rect x="430" y="450" width="0.9" height="14.6" fill="#888"/>
<rect x="430.9" y="450" width="1.2" height="14.6" fill="#333"/>
<rect x="432.1" y="450" width="1.6" height="14.6" fill="#e0e0e0"/>
<rect x="433.7" y="450" width="0.7" height="14.6" fill="#f4f4f4"/>
<rect x="434.4" y="450" width="1.6" height="14.6" fill="#000"/>
<rect x="436" y="450" width="0.5" height="14.6" fill="#000"/>
<rect x="436.5" y="450" width="1.6" height="14.6" fill="#555"/>
<rect x="438.1" y="450" width="0.9" height="14.6" fill="#f4f4f4"/>
<rect x="439" y="450" width="0.5" height="14.6" fill="#1a1a1a"/>
<rect x="439.5" y="450" width="1.6" height="14.6" fill="#888"/>
<rect x="441.1" y="450" width="1.2" height="14.6" fill="#1a1a1a"/>
<rect x="442.3" y="450" width="0.7" height="14.6" fill="#888"/>
<rect x="443" y="450" width="0.5" height="14.6" fill="#888"/>
<rect x="443.5" y="450" width="1.2" height="14.6" fill="#555"/>
<rect x="444.7" y="450" width="0.7" height="14.6" fill="#c8c8c8"/>
<rect x="445.4" y="450" width="1.2" height="14.6" fill="#000"/>
<rect x="446.6" y="450" width="0.5" height="14.6" fill="#333"/>
<rect x="447.1" y="450" width="0.5" height="14.6" fill="#0a0a0a"/>
<rect x="447.6" y="450" width="0.5" height="14.6" fill="#c8c8c8"/>
<rect x="448.1" y="450" width="1.6" height="14.6" fill="#fff"/>
<rect x="449.7" y="450" width="0.5" height="14.6" fill="#888"/>
<rect x="450.2" y="450" width="1.2" height="14.6" fill="#000"/>
<rect x="451.4" y="450" width="0.5" height="14.6" fill="#555"/>
<rect x="451.9" y="450" width="0.7" height="14.6" fill="#fff"/>
<rect x="452.6" y="450" width="0" height="14.6" fill="#000"/>
<rect x="457.5" y="450" width="1.6" height="14.6" fill="#e0e0e0"/>
<rect x="459.1" y="450" width="1.6" height="14.6" fill="#e0e0e0"/>
<rect x="460.7" y="450" width="0.9" height="14.6" fill="#0a0a0a"/>
<rect x="461.6" y="450" width="0.5" height="14.6" fill="#f4f4f4"/>
<rect x="462.1" y="450" width="1.2" height="14.6" fill="#fff"/>
<rect x="463.3" y="450" width="0.5" height="14.6" fill="#e0e0e0"/>
<rect x="463.8" y="450" width="1.6" height="14.6" fill="#fff"/>
<rect x="465.4" y="450" width="0.9" height="14.6" fill="#c8c8c8"/>
<rect x="466.3" y="450" width="0.9" height="14.6" fill="#6a6a6a"/>
<rect x="467.2" y="450" width="0.7" height="14.6" fill="#fff"/>
<rect x="467.9" y="450" width="0.7" height="14.6" fill="#6a6a6a"/>
<rect x="468.6" y="450" width="0.5" height="14.6" fill="#c8c8c8"/>
<rect x="469.1" y="450" width="0.7" height="14.6" fill="#fff"/>
<rect x="469.8" y="450" width="0.2" height="14.6" fill="#f4f4f4"/>
<rect x="470" y="450" width="0.5" height="14.6" fill="#000"/>
<rect x="470.5" y="450" width="0.7" height="14.6" fill="#fff"/>
<rect x="471.2" y="450" width="0.7" height="14.6" fill="#c8c8c8"/>
<rect x="471.9" y="450" width="0.7" height="14.6" fill="#6a6a6a"/>
<rect x="472.6" y="450" width="1.2" height="14.6" fill="#fff"/>
<rect x="473.8" y="450" width="0.9" height="14.6" fill="#6a6a6a"/>
<rect x="474.7" y="450" width="1.6" height="14.6" fill="#e0e0e0"/>
<rect x="476.3" y="450" width="1.6" height="14.6" fill="#1a1a1a"/>
<rect x="477.9" y="450" width="0.5" height="14.6" fill="#000"/>
<rect x="478.4" y="450" width="1.2" height="14.6" fill="#000"/>
<rect x="479.6" y="450" width="1.2" height="14.6" fill="#1a1a1a"/>
<rect x="480.8" y="450" width="0.9" height="14.6" fill="#888"/>
<rect x="481.7" y="450" width="0.9" height="14.6" fill="#1a1a1a"/>
<rect x="482.6" y="450" width="0.7" height="14.6" fill="#333"/>
<rect x="483.3" y="450" width="1.2" height="14.6" fill="#f4f4f4"/>
<rect x="484.5" y="450" width="1.6" height="14.6" fill="#000"/>
<rect x="486.1" y="450" width="1.2" height="14.6" fill="#1a1a1a"/>
<rect x="487.3" y="450" width="0.7" height="14.6" fill="#000"/>
<rect x="488" y="450" width="1" height="14.6" fill="#000"/>
<rect x="489" y="450" width="0.9" height="14.6" fill="#fff"/>
<rect x="489.9" y="450" width="0.5" height="14.6" fill="#f4f4f4"/>
<rect x="490.4" y="450" width="0.5" height="14.6" fill="#555"/>
<rect x="490.9" y="450" width="1.2" height="14.6" fill="#888"/>
<rect x="492.1" y="450" width="0.5" height="14.6" fill="#1a1a1a"/>
<rect x="492.6" y="450" width="1.6" height="14.6" fill="#888"/>
<rect x="494.2" y="450" width="0.5" height="14.6" fill="#555"/>
<rect x="494.7" y="450" width="1.2" height="14.6" fill="#f4f4f4"/>
<rect x="495.9" y="450" width="0.9" height="14.6" fill="#e0e0e0"/>
<rect x="496.8" y="450" width="0.5" height="14.6" fill="#e0e0e0"/>
<rect x="497.3" y="450" width="0.5" height="14.6" fill="#6a6a6a"/>
<rect x="497.8" y="450" width="0.7" height="14.6" fill="#f4f4f4"/>
<rect x="498.5" y="450" width="1.2" height="14.6" fill="#f4f4f4"/>
<rect x="499.7" y="450" width="1.6" height="14.6" fill="#c8c8c8"/>
<rect x="501.3" y="450" width="0.5" height="14.6" fill="#c8c8c8"/>
<rect x="501.8" y="450" width="0.9" height="14.6" fill="#1a1a1a"/>
<rect x="502.7" y="450" width="0.5" height="14.6" fill="#0a0a0a"/>
<rect x="503.2" y="450" width="0.7" height="14.6" fill="#f4f4f4"/>
<rect x="503.9" y="450" width="1.6" height="14.6" fill="#555"/>
<rect x="505.5" y="450" width="1.2" height="14.6" fill="#e0e0e0"/>
<rect x="506.7" y="450" width="1.6" height="14.6" fill="#f4f4f4"/>
<rect x="508.3" y="450" width="1.2" height="14.6" fill="#e0e0e0"/>
<rect x="509.5" y="450" width="0.9" height="14.6" fill="#888"/>
<rect x="510.4" y="450" width="0.9" height="14.6" fill="#c8c8c8"/>
<rect x="511.3" y="450" width="1.2" height="14.6" fill="#6a6a6a"/>
<rect x="512.5" y="450" width="0.7" height="14.6" fill="#e0e0e0"/>
<rect x="513.2" y="450" width="0" height="14.6" fill="#333"/>
<defs><linearGradient id="cb23" x1="0" x2="1" y1="0" y2="0"><stop offset="0" stop-color="#d61e2b"/><stop offset="0.33" stop-color="#e04050"/><stop offset="0.38" stop-color="#f2b8d4"/><stop offset="0.55" stop-color="#e6ddf2"/><stop offset="0.75" stop-color="#9b9be0"/><stop offset="0.94" stop-color="#2020b8"/><stop offset="1" stop-color="#00006e"/></linearGradient></defs>
<rect x="419.9" y="464.7" width="93.3" height="3.7" fill="url(#cb23)"/>
<text x="420.9" y="470.74" font-size="2.6" text-anchor="start" style="stroke:none" fill="#d33">'na_pos' (positively correlated)</text>
<rect x="419.9" y="470.8" width="97.2" height="26.5" fill="#fff"/>
<line x1="419.9" y1="485.8" x2="513.2" y2="485.8" stroke="#ccc" stroke-width="0.4"/>
<polygon points="419.9,485.8 419.9,480.3 421.07,480.72 422.23,481.11 423.4,481.48 424.56,481.82 425.73,482.13 426.9,482.42 428.06,482.69 429.23,482.94 430.4,483.18 431.56,483.39 432.73,483.59 433.89,483.77 435.06,483.94 436.23,484.1 437.39,484.24 438.56,484.37 439.73,484.5 440.89,484.61 442.06,484.71 443.23,484.81 444.39,484.9 445.56,484.98 446.72,485.06 447.89,485.12 449.06,485.19 450.22,485.25 451.39,485.3 452.56,485.36 453.72,485.4 454.89,485.45 456.05,485.49 457.22,485.53 458.39,485.56 459.55,485.6 460.72,485.63 461.88,485.66 463.05,485.69 464.22,485.72 465.38,485.75 466.55,485.78 467.72,485.8 468.88,485.83 470.05,485.86 471.22,485.88 472.38,485.91 473.55,485.94 474.71,485.97 475.88,486 477.05,486.03 478.21,486.06 479.38,486.1 480.55,486.14 481.71,486.18 482.88,486.23 484.04,486.28 485.21,486.34 486.38,486.4 487.54,486.47 488.71,486.55 489.88,486.64 491.04,486.73 492.21,486.84 493.37,486.96 494.54,487.09 495.71,487.24 496.87,487.41 498.04,487.59 499.21,487.8 500.37,488.02 501.54,488.28 502.7,488.56 503.87,488.88 505.04,489.23 506.2,489.62 507.37,490.05 508.54,490.53 509.7,491.06 510.87,491.64 512.03,492.29 513.2,493 513.2,485.8" fill="#c8c8c8" stroke="#aaa" stroke-width="0.3"/>
<text x="418.7" y="474.44" font-size="2.9" text-anchor="end" style="stroke:none" fill="#555">1.0</text>
<text x="418.7" y="480.44" font-size="2.9" text-anchor="end" style="stroke:none" fill="#555">0.5</text>
<text x="418.7" y="486.84" font-size="2.9" text-anchor="end" style="stroke:none" fill="#555">0.0</text>
<text x="418.7" y="493.54" font-size="2.9" text-anchor="end" style="stroke:none" fill="#555">-0.5</text>
<line x1="469.35" y1="470.8" x2="469.35" y2="497.3" stroke="#ccc" stroke-width="0.4" stroke-dasharray="1,1"/>
<text x="467.35" y="484.17" font-size="2.7" text-anchor="middle" style="stroke:none" fill="#444">Zero cross at 11460</text>
<text x="469.35" y="496.74" font-size="2.6" text-anchor="start" style="stroke:none" fill="#44c">'na_neg' (negatively correlated)</text>
<text transform="translate(411.24,483.2) rotate(-90)" font-size="2.9" text-anchor="middle" style="stroke:none" fill="#444">Ranked list metric (Signal2Noise)</text>
<text x="419.9" y="501.37" font-size="2.7" text-anchor="middle" style="stroke:none" fill="#555">0</text>
<text x="431.56" y="501.37" font-size="2.7" text-anchor="middle" style="stroke:none" fill="#555">2,500</text>
<text x="443.23" y="501.37" font-size="2.7" text-anchor="middle" style="stroke:none" fill="#555">5,000</text>
<text x="454.89" y="501.37" font-size="2.7" text-anchor="middle" style="stroke:none" fill="#555">7,500</text>
<text x="466.55" y="501.37" font-size="2.7" text-anchor="middle" style="stroke:none" fill="#555">10,000</text>
<text x="478.21" y="501.37" font-size="2.7" text-anchor="middle" style="stroke:none" fill="#555">12,500</text>
<text x="489.88" y="501.37" font-size="2.7" text-anchor="middle" style="stroke:none" fill="#555">15,000</text>
<text x="501.54" y="501.37" font-size="2.7" text-anchor="middle" style="stroke:none" fill="#555">17,500</text>
<text x="513.2" y="501.37" font-size="2.7" text-anchor="middle" style="stroke:none" fill="#555">20,000</text>
<text x="466.55" y="505.24" font-size="2.9" text-anchor="middle" style="stroke:none" fill="#444">Rank in Ordered Dataset</text>
<rect x="422.2" y="507.2" width="80" height="4.2" fill="#f8f8f8" stroke="#777" stroke-width="0.4"/>
<line x1="425.9" y1="509.3" x2="430.9" y2="509.3" stroke="#4fd14f" stroke-width="0.8"/>
<text x="432.9" y="510.27" font-size="2.7" text-anchor="start" style="stroke:none" fill="#555">Enrichment profile  —  Hits          Ranking metric scores</text>
<text x="289.2" y="519.6" font-size="5.85" fill="#111"><tspan font-weight="bold">NES: -1.17; NOM P: &lt;0.001; </tspan><tspan>FDR Q: 0.096</tspan></text>
<text x="409.4" y="519.6" font-size="5.85" fill="#111"><tspan font-weight="bold">NES: 1.24; NOM P: &lt;0.001; </tspan><tspan>FDR Q: 0.05</tspan></text>
<rect x="1.1" y="516.8" width="2.6" height="8.8" fill="#000"/>
<text x="1" y="619.3" font-size="13.4" font-weight="bold" fill="#000" style="stroke-width:0.35px;stroke:#000">J</text>
<text x="61.2" y="522.49" font-size="7.75" text-anchor="middle" fill="#1a1a1a" style="stroke-width:0.2px">SCF</text>
<rect x="32.1" y="524.1" width="58.2" height="59.5" fill="#fff" stroke="#b5b5b5" stroke-width="0.6"/>
<path d="M47.8,548.5 C51,544 56,539.5 61,536.4 C65.5,533.8 69.5,535.6 67.8,539.6 C66,543.2 59,547 53.5,550.6 C51,552.2 49,553.6 47.8,553.2 Z" fill="#d8d8d8" stroke="#8a8a8a" stroke-width="0.8"/>
<path d="M49.5,549.4 C53,545.5 57.5,541.5 61.5,539 C64.3,537.4 66.3,538.4 64.8,540.6 C62.8,543 57.5,546.2 52.5,549.8 Z" fill="#ececec" stroke="#9a9a9a" stroke-width="0.6"/>
<path d="M53,547.4 C56,545 59,542.6 62,541" fill="none" stroke="#aaa" stroke-width="0.5"/>
<circle cx="61.5" cy="531.5" r="0.8" fill="#ddd"/>
<path d="M43.6,546 C43.4,542.5 49.6,542.3 49.6,546 L49.4,552 C49.2,556 48.2,561 47.6,566 C47.2,569.5 44.4,569.5 44.3,566 C44.1,561 43.8,553 43.6,546 Z" fill="#4a4a4a" stroke="#111" stroke-width="1.2"/>
<path d="M45.5,547 C45.5,545.5 47.8,545.5 47.8,547.5 L47.2,556 C47,559 45.8,559 45.7,556 Z" fill="#111"/>
<path d="M48.8,550.5 L52,549" stroke="#222" stroke-width="0.9"/>
<line x1="32.1" y1="553.6" x2="90.3" y2="553.6" stroke="#2a2a2a" stroke-width="1"/>
<line x1="51.2" y1="524.1" x2="51.2" y2="583.6" stroke="#2a2a2a" stroke-width="1"/>
<text x="34.2" y="528.98" font-size="4.4" text-anchor="start" style="stroke:none" fill="#2a2a2a">50.4</text>
<text x="89" y="528.98" font-size="4.4" text-anchor="end" style="stroke:none" fill="#2a2a2a">21.7</text>
<text x="34.2" y="581.78" font-size="4.4" text-anchor="start" style="stroke:none" fill="#2a2a2a">27.5</text>
<text x="89" y="581.78" font-size="4.4" text-anchor="end" style="stroke:none" fill="#2a2a2a">0.30</text>
<text transform="translate(29.05,542) rotate(-90)" font-size="3.2" text-anchor="middle" style="stroke:none" fill="#333">10<tspan font-size="2" dy="-1">4</tspan></text>
<text transform="translate(29.05,559) rotate(-90)" font-size="3.2" text-anchor="middle" style="stroke:none" fill="#333">10<tspan font-size="2" dy="-1">3</tspan></text>
<text transform="translate(29.05,575.8) rotate(-90)" font-size="3.2" text-anchor="middle" style="stroke:none" fill="#333">0</text>
<text x="32.5" y="588.68" font-size="3" text-anchor="middle" style="stroke:none" fill="#333">0</text>
<text x="46.67" y="588.68" font-size="3" text-anchor="middle" style="stroke:none" fill="#333">200K</text>
<text x="60.85" y="588.68" font-size="3" text-anchor="middle" style="stroke:none" fill="#333">400K</text>
<text x="75.03" y="588.68" font-size="3" text-anchor="middle" style="stroke:none" fill="#333">600K</text>
<text x="89.2" y="588.68" font-size="3" text-anchor="middle" style="stroke:none" fill="#333">800K</text>
<text x="136.1" y="522.49" font-size="7.75" text-anchor="middle" fill="#1a1a1a" style="stroke-width:0.2px">SCF + TPO</text>
<rect x="106.9" y="524.1" width="58.4" height="59.5" fill="#fff" stroke="#b5b5b5" stroke-width="0.6"/>
<path d="M122.4,556 C122.2,560 122.8,564 123.6,566 C124.4,564 125,560 125.2,556 Z" fill="#e6e6e6" stroke="#aaa" stroke-width="0.5"/>
<path d="M125.2,546 C131.2,543 137.2,540 141.7,538.2 C145.2,537 146.7,539 144.2,541 C139.2,544.5 133.2,547.5 127.2,551 Z" fill="#e8e8e8" stroke="#999" stroke-width="0.6"/>
<path d="M126.2,546.5 C131.2,544 136.2,541.5 140.2,539.8 C142.6,539 143.2,540.6 141.2,541.8 C137.2,544 132.2,546.6 127.2,549.6 Z" fill="#9a9a9a" stroke="#1a1a1a" stroke-width="0.95"/>
<circle cx="139.4" cy="533" r="1.1" fill="none" stroke="#aaa" stroke-width="0.5"/>
<path d="M121.4,546 C121.2,543.6 126.8,543.4 127,546 L127,553 C126.8,557.5 121.8,557.5 121.6,553 Z" fill="#3a3a3a" stroke="#0a0a0a" stroke-width="1.2"/>
<path d="M123,547 L125.4,547 L125.2,554.5 L123.2,554.5 Z" fill="#111"/>
<line x1="106.9" y1="553.6" x2="165.3" y2="553.6" stroke="#2a2a2a" stroke-width="1"/>
<line x1="126.2" y1="524.1" x2="126.2" y2="583.6" stroke="#2a2a2a" stroke-width="1"/>
<text x="109" y="528.98" font-size="4.4" text-anchor="start" style="stroke:none" fill="#2a2a2a">43.5</text>
<text x="164" y="528.98" font-size="4.4" text-anchor="end" style="stroke:none" fill="#2a2a2a">43.1</text>
<text x="109" y="581.78" font-size="4.4" text-anchor="start" style="stroke:none" fill="#2a2a2a">12.6</text>
<text x="164" y="581.78" font-size="4.4" text-anchor="end" style="stroke:none" fill="#2a2a2a">0.62</text>
<text transform="translate(103.85,542) rotate(-90)" font-size="3.2" text-anchor="middle" style="stroke:none" fill="#333">10<tspan font-size="2" dy="-1">4</tspan></text>
<text transform="translate(103.85,559) rotate(-90)" font-size="3.2" text-anchor="middle" style="stroke:none" fill="#333">10<tspan font-size="2" dy="-1">3</tspan></text>
<text transform="translate(103.85,575.8) rotate(-90)" font-size="3.2" text-anchor="middle" style="stroke:none" fill="#333">0</text>
<text x="107.3" y="588.68" font-size="3" text-anchor="middle" style="stroke:none" fill="#333">0</text>
<text x="121.53" y="588.68" font-size="3" text-anchor="middle" style="stroke:none" fill="#333">200K</text>
<text x="135.75" y="588.68" font-size="3" text-anchor="middle" style="stroke:none" fill="#333">400K</text>
<text x="149.98" y="588.68" font-size="3" text-anchor="middle" style="stroke:none" fill="#333">600K</text>
<text x="164.2" y="588.68" font-size="3" text-anchor="middle" style="stroke:none" fill="#333">800K</text>
<text x="210.65" y="522.49" font-size="7.75" text-anchor="middle" fill="#1a1a1a" style="stroke-width:0.2px">SCF + CCL28</text>
<rect x="181.3" y="524.1" width="58.7" height="59.5" fill="#fff" stroke="#b5b5b5" stroke-width="0.6"/>
<path d="M196.4,556 C196.2,560 196.8,564 197.6,566 C198.4,564 199,560 199.2,556 Z" fill="#e6e6e6" stroke="#aaa" stroke-width="0.5"/>
<path d="M199.2,546 C205.2,543 211.2,540 215.7,538.2 C219.2,537 220.7,539 218.2,541 C213.2,544.5 207.2,547.5 201.2,551 Z" fill="#e8e8e8" stroke="#999" stroke-width="0.6"/>
<path d="M200.2,546.5 C205.2,544 210.2,541.5 214.2,539.8 C216.6,539 217.2,540.6 215.2,541.8 C211.2,544 206.2,546.6 201.2,549.6 Z" fill="#9a9a9a" stroke="#1a1a1a" stroke-width="0.95"/>
<circle cx="213.4" cy="533" r="1.1" fill="none" stroke="#aaa" stroke-width="0.5"/>
<path d="M195.4,546 C195.2,543.6 200.8,543.4 201,546 L201,553 C200.8,557.5 195.8,557.5 195.6,553 Z" fill="#3a3a3a" stroke="#0a0a0a" stroke-width="1.2"/>
<path d="M197,547 L199.4,547 L199.2,554.5 L197.2,554.5 Z" fill="#111"/>
<line x1="181.3" y1="553.6" x2="240" y2="553.6" stroke="#2a2a2a" stroke-width="1"/>
<line x1="200.2" y1="524.1" x2="200.2" y2="583.6" stroke="#2a2a2a" stroke-width="1"/>
<text x="183.4" y="528.98" font-size="4.4" text-anchor="start" style="stroke:none" fill="#2a2a2a">43.9</text>
<text x="238.7" y="528.98" font-size="4.4" text-anchor="end" style="stroke:none" fill="#2a2a2a">40.2</text>
<text x="183.4" y="581.78" font-size="4.4" text-anchor="start" style="stroke:none" fill="#2a2a2a">15.3</text>
<text x="238.7" y="581.78" font-size="4.4" text-anchor="end" style="stroke:none" fill="#2a2a2a">0.63</text>
<text transform="translate(178.25,542) rotate(-90)" font-size="3.2" text-anchor="middle" style="stroke:none" fill="#333">10<tspan font-size="2" dy="-1">4</tspan></text>
<text transform="translate(178.25,559) rotate(-90)" font-size="3.2" text-anchor="middle" style="stroke:none" fill="#333">10<tspan font-size="2" dy="-1">3</tspan></text>
<text transform="translate(178.25,575.8) rotate(-90)" font-size="3.2" text-anchor="middle" style="stroke:none" fill="#333">0</text>
<text x="181.7" y="588.68" font-size="3" text-anchor="middle" style="stroke:none" fill="#333">0</text>
<text x="196" y="588.68" font-size="3" text-anchor="middle" style="stroke:none" fill="#333">200K</text>
<text x="210.3" y="588.68" font-size="3" text-anchor="middle" style="stroke:none" fill="#333">400K</text>
<text x="224.6" y="588.68" font-size="3" text-anchor="middle" style="stroke:none" fill="#333">600K</text>
<text x="238.9" y="588.68" font-size="3" text-anchor="middle" style="stroke:none" fill="#333">800K</text>
<path d="M19.3,596.4 V576.5 M19.3,596.4 H38.8" stroke="#111" stroke-width="1.1" fill="none"/>
<polygon points="17.3,577 19.3,573.5 21.3,577" fill="#111"/>
<polygon points="38.3,594.4 41.8,596.4 38.3,598.4" fill="#111"/>
<text transform="translate(20.64,559.8) rotate(-90)" font-size="7.6" text-anchor="middle" fill="#1a1a1a" style="stroke-width:0.3px">Ki67</text>
<text x="48" y="599.89" font-size="7.75" text-anchor="start" fill="#1a1a1a" style="stroke-width:0.3px">Hoechst 33342</text>
<path d="M19.3,691.7 V671.5 M19.3,691.7 H38.8" stroke="#111" stroke-width="1.1" fill="none"/>
<polygon points="17.3,672 19.3,668.5 21.3,672" fill="#111"/>
<polygon points="38.3,689.7 41.8,691.7 38.3,693.7" fill="#111"/>
<text transform="translate(20.64,654.7) rotate(-90)" font-size="7.6" text-anchor="middle" fill="#1a1a1a" style="stroke-width:0.3px">7AAD</text>
<text x="48" y="694.99" font-size="7.75" text-anchor="start" fill="#1a1a1a" style="stroke-width:0.3px">Annexin V</text>
<text x="61.8" y="617.69" font-size="7.75" text-anchor="middle" fill="#1a1a1a" style="stroke-width:0.2px">SCF</text>
<rect x="32.8" y="620.2" width="58" height="58" fill="#fff" stroke="#b5b5b5" stroke-width="0.6"/>
<path d="M43.5,650.8 C43.83,649.38 43.75,647.68 45,646.8 C46.25,645.92 48.67,645.68 51,645.5 C53.33,645.32 56.5,645.43 59,645.7 C61.5,645.97 64.08,646.63 66,647.1 C67.92,647.57 70.08,647.63 70.5,648.5 C70.92,649.37 69.58,650.83 68.5,652.3 C67.42,653.77 65.92,655.67 64,657.3 C62.08,658.93 59.17,661.18 57,662.1 C54.83,663.02 52.92,663.1 51,662.8 C49.08,662.5 46.83,661.55 45.5,660.3 C44.17,659.05 43.33,656.88 43,655.3 C42.67,653.72 43.17,652.22 43.5,650.8Z" fill="#f7f7f7" stroke="#2a2a2a" stroke-width="0.65"/>
<path d="M44.37,650.97 C44.64,649.81 44.57,648.41 45.6,647.69 C46.62,646.97 48.61,646.77 50.52,646.62 C52.43,646.47 55.03,646.57 57.08,646.79 C59.13,647.01 61.25,647.55 62.82,647.94 C64.39,648.32 66.17,648.37 66.51,649.08 C66.85,649.79 65.76,651 64.87,652.2 C63.98,653.4 62.75,654.96 61.18,656.3 C59.61,657.64 57.22,659.48 55.44,660.24 C53.66,660.99 52.09,661.06 50.52,660.81 C48.95,660.56 47.1,659.78 46.01,658.76 C44.92,657.73 44.23,655.96 43.96,654.66 C43.69,653.36 44.1,652.13 44.37,650.97Z" fill="#e2e2e2" stroke="#777" stroke-width="0.5"/>
<path d="M45.41,651.01 C45.63,650.08 45.57,648.95 46.4,648.37 C47.23,647.79 48.82,647.63 50.36,647.51 C51.9,647.39 53.99,647.47 55.64,647.64 C57.29,647.82 58.99,648.26 60.26,648.57 C61.52,648.88 62.96,648.92 63.23,649.49 C63.51,650.06 62.62,651.03 61.91,652 C61.19,652.97 60.2,654.22 58.94,655.3 C57.67,656.38 55.75,657.86 54.32,658.47 C52.89,659.07 51.62,659.13 50.36,658.93 C49.09,658.73 47.61,658.11 46.73,657.28 C45.85,656.45 45.3,655.02 45.08,653.98 C44.86,652.94 45.19,651.94 45.41,651.01Z" fill="#b5b5b5" stroke="#555" stroke-width="0.5"/>
<path d="M46.65,651.05 C46.82,650.34 46.77,649.49 47.4,649.05 C48.02,648.61 49.23,648.49 50.4,648.4 C51.57,648.31 53.15,648.37 54.4,648.5 C55.65,648.63 56.94,648.97 57.9,649.2 C58.86,649.43 59.94,649.47 60.15,649.9 C60.36,650.33 59.69,651.07 59.15,651.8 C58.61,652.53 57.86,653.48 56.9,654.3 C55.94,655.12 54.48,656.24 53.4,656.7 C52.32,657.16 51.36,657.2 50.4,657.05 C49.44,656.9 48.32,656.42 47.65,655.8 C46.98,655.17 46.57,654.09 46.4,653.3 C46.23,652.51 46.48,651.76 46.65,651.05Z" fill="#6a6a6a" stroke="#333" stroke-width="0.5"/>
<path d="M47.86,651.16 C47.98,650.65 47.95,650.04 48.4,649.72 C48.85,649.4 49.72,649.32 50.56,649.25 C51.4,649.19 52.54,649.23 53.44,649.32 C54.34,649.42 55.27,649.66 55.96,649.83 C56.65,650 57.43,650.02 57.58,650.33 C57.73,650.64 57.25,651.17 56.86,651.7 C56.47,652.23 55.93,652.91 55.24,653.5 C54.55,654.09 53.5,654.9 52.72,655.23 C51.94,655.56 51.25,655.59 50.56,655.48 C49.87,655.37 49.06,655.03 48.58,654.58 C48.1,654.13 47.8,653.35 47.68,652.78 C47.56,652.21 47.74,651.67 47.86,651.16Z" fill="#222"/>
<path d="M50.5,651.7 C53,650.7 57,650.1 59,650.1 L58.6,651.3 C56,651.5 53,652.7 50.8,653.1 Z" fill="#f4f4f4"/>
<line x1="32.8" y1="644.1" x2="90.8" y2="644.1" stroke="#999" stroke-width="0.6"/>
<line x1="61.6" y1="620.2" x2="61.6" y2="678.2" stroke="#999" stroke-width="0.6"/>
<text x="34.4" y="625.48" font-size="4.4" text-anchor="start" style="stroke:none" fill="#2a2a2a">0.08</text>
<text x="89.5" y="625.48" font-size="4.4" text-anchor="end" style="stroke:none" fill="#2a2a2a">0.54</text>
<text x="34.4" y="676.58" font-size="4.4" text-anchor="start" style="stroke:none" fill="#2a2a2a">85</text>
<text x="89.5" y="676.58" font-size="4.4" text-anchor="end" style="stroke:none" fill="#2a2a2a">14.3</text>
<text transform="translate(29.75,626.4) rotate(-90)" font-size="3.2" text-anchor="middle" style="stroke:none" fill="#333">10<tspan font-size="2" dy="-1">5</tspan></text>
<text transform="translate(29.75,639.2) rotate(-90)" font-size="3.2" text-anchor="middle" style="stroke:none" fill="#333">10<tspan font-size="2" dy="-1">4</tspan></text>
<text transform="translate(29.75,652.7) rotate(-90)" font-size="3.2" text-anchor="middle" style="stroke:none" fill="#333">10<tspan font-size="2" dy="-1">3</tspan></text>
<text transform="translate(29.75,665.5) rotate(-90)" font-size="3.2" text-anchor="middle" style="stroke:none" fill="#333">10<tspan font-size="2" dy="-1">2</tspan></text>
<text transform="translate(29.75,672.2) rotate(-90)" font-size="3.2" text-anchor="middle" style="stroke:none" fill="#333">0</text>
<text x="38.3" y="683.45" font-size="3.2" text-anchor="middle" style="stroke:none" fill="#333">0</text>
<text x="43.1" y="683.45" font-size="3.2" text-anchor="middle" style="stroke:none" fill="#333">10<tspan font-size="2" dy="-1">2</tspan></text>
<text x="58" y="683.45" font-size="3.2" text-anchor="middle" style="stroke:none" fill="#333">10<tspan font-size="2" dy="-1">3</tspan></text>
<text x="71.4" y="683.45" font-size="3.2" text-anchor="middle" style="stroke:none" fill="#333">10<tspan font-size="2" dy="-1">4</tspan></text>
<text x="85.6" y="683.45" font-size="3.2" text-anchor="middle" style="stroke:none" fill="#333">10<tspan font-size="2" dy="-1">5</tspan></text>
<text x="136.3" y="617.69" font-size="7.75" text-anchor="middle" fill="#1a1a1a" style="stroke-width:0.2px">SCF + TPO</text>
<rect x="107.3" y="620.2" width="58" height="58" fill="#fff" stroke="#b5b5b5" stroke-width="0.6"/>
<path d="M118.3,650.8 C118.63,649.38 118.55,647.68 119.8,646.8 C121.05,645.92 123.47,645.68 125.8,645.5 C128.13,645.32 131.3,645.43 133.8,645.7 C136.3,645.97 138.88,646.63 140.8,647.1 C142.72,647.57 144.88,647.63 145.3,648.5 C145.72,649.37 144.38,650.83 143.3,652.3 C142.22,653.77 140.72,655.67 138.8,657.3 C136.88,658.93 133.97,661.18 131.8,662.1 C129.63,663.02 127.72,663.1 125.8,662.8 C123.88,662.5 121.63,661.55 120.3,660.3 C118.97,659.05 118.13,656.88 117.8,655.3 C117.47,653.72 117.97,652.22 118.3,650.8Z" fill="#f7f7f7" stroke="#2a2a2a" stroke-width="0.65"/>
<path d="M119.17,650.97 C119.44,649.81 119.38,648.41 120.4,647.69 C121.43,646.97 123.41,646.77 125.32,646.62 C127.23,646.47 129.83,646.57 131.88,646.79 C133.93,647.01 136.05,647.55 137.62,647.94 C139.19,648.32 140.97,648.37 141.31,649.08 C141.65,649.79 140.56,651 139.67,652.2 C138.78,653.4 137.55,654.96 135.98,656.3 C134.41,657.64 132.02,659.48 130.24,660.24 C128.46,660.99 126.89,661.06 125.32,660.81 C123.75,660.56 121.9,659.78 120.81,658.76 C119.72,657.73 119.03,655.96 118.76,654.66 C118.49,653.36 118.9,652.13 119.17,650.97Z" fill="#e2e2e2" stroke="#777" stroke-width="0.5"/>
<path d="M120.21,651.01 C120.43,650.08 120.38,648.95 121.2,648.37 C122.03,647.79 123.62,647.63 125.16,647.51 C126.7,647.39 128.79,647.47 130.44,647.64 C132.09,647.82 133.8,648.26 135.06,648.57 C136.32,648.88 137.75,648.92 138.03,649.49 C138.31,650.06 137.43,651.03 136.71,652 C136,652.97 135,654.22 133.74,655.3 C132.48,656.38 130.55,657.86 129.12,658.47 C127.69,659.07 126.43,659.13 125.16,658.93 C123.9,658.73 122.41,658.11 121.53,657.28 C120.65,656.45 120.1,655.02 119.88,653.98 C119.66,652.94 119.99,651.94 120.21,651.01Z" fill="#b5b5b5" stroke="#555" stroke-width="0.5"/>
<path d="M121.45,651.05 C121.62,650.34 121.58,649.49 122.2,649.05 C122.83,648.61 124.03,648.49 125.2,648.4 C126.37,648.31 127.95,648.37 129.2,648.5 C130.45,648.63 131.74,648.97 132.7,649.2 C133.66,649.43 134.74,649.47 134.95,649.9 C135.16,650.33 134.49,651.07 133.95,651.8 C133.41,652.53 132.66,653.48 131.7,654.3 C130.74,655.12 129.28,656.24 128.2,656.7 C127.12,657.16 126.16,657.2 125.2,657.05 C124.24,656.9 123.12,656.42 122.45,655.8 C121.78,655.17 121.37,654.09 121.2,653.3 C121.03,652.51 121.28,651.76 121.45,651.05Z" fill="#6a6a6a" stroke="#333" stroke-width="0.5"/>
<path d="M122.66,651.16 C122.78,650.65 122.75,650.04 123.2,649.72 C123.65,649.4 124.52,649.32 125.36,649.25 C126.2,649.19 127.34,649.23 128.24,649.32 C129.14,649.42 130.07,649.66 130.76,649.83 C131.45,650 132.23,650.02 132.38,650.33 C132.53,650.64 132.05,651.17 131.66,651.7 C131.27,652.23 130.73,652.91 130.04,653.5 C129.35,654.09 128.3,654.9 127.52,655.23 C126.74,655.56 126.05,655.59 125.36,655.48 C124.67,655.37 123.86,655.03 123.38,654.58 C122.9,654.13 122.6,653.35 122.48,652.78 C122.36,652.21 122.54,651.67 122.66,651.16Z" fill="#222"/>
<path d="M125.3,651.7 C127.8,650.7 131.8,650.1 133.8,650.1 L133.4,651.3 C130.8,651.5 127.8,652.7 125.6,653.1 Z" fill="#f4f4f4"/>
<line x1="107.3" y1="644.1" x2="165.3" y2="644.1" stroke="#999" stroke-width="0.6"/>
<line x1="136.2" y1="620.2" x2="136.2" y2="678.2" stroke="#999" stroke-width="0.6"/>
<text x="108.9" y="625.48" font-size="4.4" text-anchor="start" style="stroke:none" fill="#2a2a2a">0.29</text>
<text x="164" y="625.48" font-size="4.4" text-anchor="end" style="stroke:none" fill="#2a2a2a">0.77</text>
<text x="108.9" y="676.58" font-size="4.4" text-anchor="start" style="stroke:none" fill="#2a2a2a">83.6</text>
<text x="164" y="676.58" font-size="4.4" text-anchor="end" style="stroke:none" fill="#2a2a2a">15.3</text>
<text transform="translate(104.25,626.4) rotate(-90)" font-size="3.2" text-anchor="middle" style="stroke:none" fill="#333">10<tspan font-size="2" dy="-1">5</tspan></text>
<text transform="translate(104.25,639.2) rotate(-90)" font-size="3.2" text-anchor="middle" style="stroke:none" fill="#333">10<tspan font-size="2" dy="-1">4</tspan></text>
<text transform="translate(104.25,652.7) rotate(-90)" font-size="3.2" text-anchor="middle" style="stroke:none" fill="#333">10<tspan font-size="2" dy="-1">3</tspan></text>
<text transform="translate(104.25,665.5) rotate(-90)" font-size="3.2" text-anchor="middle" style="stroke:none" fill="#333">10<tspan font-size="2" dy="-1">2</tspan></text>
<text transform="translate(104.25,672.2) rotate(-90)" font-size="3.2" text-anchor="middle" style="stroke:none" fill="#333">0</text>
<text x="112.8" y="683.45" font-size="3.2" text-anchor="middle" style="stroke:none" fill="#333">0</text>
<text x="117.6" y="683.45" font-size="3.2" text-anchor="middle" style="stroke:none" fill="#333">10<tspan font-size="2" dy="-1">2</tspan></text>
<text x="132.5" y="683.45" font-size="3.2" text-anchor="middle" style="stroke:none" fill="#333">10<tspan font-size="2" dy="-1">3</tspan></text>
<text x="145.9" y="683.45" font-size="3.2" text-anchor="middle" style="stroke:none" fill="#333">10<tspan font-size="2" dy="-1">4</tspan></text>
<text x="160.1" y="683.45" font-size="3.2" text-anchor="middle" style="stroke:none" fill="#333">10<tspan font-size="2" dy="-1">5</tspan></text>
<text x="210.65" y="617.69" font-size="7.75" text-anchor="middle" fill="#1a1a1a" style="stroke-width:0.2px">SCF + CCL28</text>
<rect x="181.3" y="620.2" width="58.7" height="58" fill="#fff" stroke="#b5b5b5" stroke-width="0.6"/>
<path d="M192.5,650.4 C192.83,648.98 192.75,647.28 194,646.4 C195.25,645.52 197.67,645.28 200,645.1 C202.33,644.92 205.5,645.03 208,645.3 C210.5,645.57 213.08,646.23 215,646.7 C216.92,647.17 219.08,647.23 219.5,648.1 C219.92,648.97 218.58,650.43 217.5,651.9 C216.42,653.37 214.92,655.27 213,656.9 C211.08,658.53 208.17,660.78 206,661.7 C203.83,662.62 201.92,662.7 200,662.4 C198.08,662.1 195.83,661.15 194.5,659.9 C193.17,658.65 192.33,656.48 192,654.9 C191.67,653.32 192.17,651.82 192.5,650.4Z" fill="#f7f7f7" stroke="#2a2a2a" stroke-width="0.65"/>
<path d="M193.37,650.57 C193.64,649.41 193.58,648.01 194.6,647.29 C195.63,646.57 197.61,646.37 199.52,646.22 C201.43,646.07 204.03,646.17 206.08,646.39 C208.13,646.61 210.25,647.15 211.82,647.54 C213.39,647.92 215.17,647.97 215.51,648.68 C215.85,649.39 214.76,650.6 213.87,651.8 C212.98,653 211.75,654.56 210.18,655.9 C208.61,657.24 206.22,659.08 204.44,659.84 C202.66,660.59 201.09,660.66 199.52,660.41 C197.95,660.16 196.1,659.38 195.01,658.36 C193.92,657.33 193.23,655.56 192.96,654.26 C192.69,652.96 193.1,651.73 193.37,650.57Z" fill="#e2e2e2" stroke="#777" stroke-width="0.5"/>
<path d="M194.41,650.61 C194.63,649.67 194.57,648.55 195.4,647.97 C196.23,647.39 197.82,647.23 199.36,647.11 C200.9,646.99 202.99,647.07 204.64,647.24 C206.29,647.42 208,647.86 209.26,648.17 C210.52,648.48 211.95,648.52 212.23,649.09 C212.5,649.66 211.62,650.63 210.91,651.6 C210.19,652.57 209.2,653.82 207.94,654.9 C206.68,655.98 204.75,657.46 203.32,658.07 C201.89,658.67 200.62,658.73 199.36,658.53 C198.1,658.33 196.61,657.7 195.73,656.88 C194.85,656.06 194.3,654.62 194.08,653.58 C193.86,652.54 194.19,651.55 194.41,650.61Z" fill="#b5b5b5" stroke="#555" stroke-width="0.5"/>
<path d="M195.65,650.65 C195.82,649.94 195.78,649.09 196.4,648.65 C197.03,648.21 198.23,648.09 199.4,648 C200.57,647.91 202.15,647.97 203.4,648.1 C204.65,648.23 205.94,648.57 206.9,648.8 C207.86,649.03 208.94,649.07 209.15,649.5 C209.36,649.93 208.69,650.67 208.15,651.4 C207.61,652.13 206.86,653.08 205.9,653.9 C204.94,654.72 203.48,655.84 202.4,656.3 C201.32,656.76 200.36,656.8 199.4,656.65 C198.44,656.5 197.32,656.02 196.65,655.4 C195.98,654.77 195.57,653.69 195.4,652.9 C195.23,652.11 195.48,651.36 195.65,650.65Z" fill="#6a6a6a" stroke="#333" stroke-width="0.5"/>
<path d="M196.86,650.76 C196.98,650.25 196.95,649.64 197.4,649.32 C197.85,649 198.72,648.92 199.56,648.85 C200.4,648.79 201.54,648.83 202.44,648.92 C203.34,649.02 204.27,649.26 204.96,649.43 C205.65,649.6 206.43,649.62 206.58,649.93 C206.73,650.24 206.25,650.77 205.86,651.3 C205.47,651.83 204.93,652.51 204.24,653.1 C203.55,653.69 202.5,654.5 201.72,654.83 C200.94,655.16 200.25,655.19 199.56,655.08 C198.87,654.97 198.06,654.63 197.58,654.18 C197.1,653.73 196.8,652.95 196.68,652.38 C196.56,651.81 196.74,651.27 196.86,650.76Z" fill="#222"/>
<path d="M199.5,651.3 C202,650.3 206,649.7 208,649.7 L207.6,650.9 C205,651.1 202,652.3 199.8,652.7 Z" fill="#f4f4f4"/>
<line x1="181.3" y1="644.1" x2="240" y2="644.1" stroke="#999" stroke-width="0.6"/>
<line x1="210.6" y1="620.2" x2="210.6" y2="678.2" stroke="#999" stroke-width="0.6"/>
<text x="182.9" y="625.48" font-size="4.4" text-anchor="start" style="stroke:none" fill="#2a2a2a">0.23</text>
<text x="238.7" y="625.48" font-size="4.4" text-anchor="end" style="stroke:none" fill="#2a2a2a">0.68</text>
<text x="182.9" y="676.58" font-size="4.4" text-anchor="start" style="stroke:none" fill="#2a2a2a">89.8</text>
<text x="238.7" y="676.58" font-size="4.4" text-anchor="end" style="stroke:none" fill="#2a2a2a">9.31</text>
<text transform="translate(178.25,626.4) rotate(-90)" font-size="3.2" text-anchor="middle" style="stroke:none" fill="#333">10<tspan font-size="2" dy="-1">5</tspan></text>
<text transform="translate(178.25,639.2) rotate(-90)" font-size="3.2" text-anchor="middle" style="stroke:none" fill="#333">10<tspan font-size="2" dy="-1">4</tspan></text>
<text transform="translate(178.25,652.7) rotate(-90)" font-size="3.2" text-anchor="middle" style="stroke:none" fill="#333">10<tspan font-size="2" dy="-1">3</tspan></text>
<text transform="translate(178.25,665.5) rotate(-90)" font-size="3.2" text-anchor="middle" style="stroke:none" fill="#333">10<tspan font-size="2" dy="-1">2</tspan></text>
<text transform="translate(178.25,672.2) rotate(-90)" font-size="3.2" text-anchor="middle" style="stroke:none" fill="#333">0</text>
<text x="186.8" y="683.45" font-size="3.2" text-anchor="middle" style="stroke:none" fill="#333">0</text>
<text x="191.6" y="683.45" font-size="3.2" text-anchor="middle" style="stroke:none" fill="#333">10<tspan font-size="2" dy="-1">2</tspan></text>
<text x="206.5" y="683.45" font-size="3.2" text-anchor="middle" style="stroke:none" fill="#333">10<tspan font-size="2" dy="-1">3</tspan></text>
<text x="219.9" y="683.45" font-size="3.2" text-anchor="middle" style="stroke:none" fill="#333">10<tspan font-size="2" dy="-1">4</tspan></text>
<text x="234.1" y="683.45" font-size="3.2" text-anchor="middle" style="stroke:none" fill="#333">10<tspan font-size="2" dy="-1">5</tspan></text>
<text x="274.3" y="543.8" font-size="13.4" font-weight="bold" fill="#000" style="stroke-width:0.35px;stroke:#000">K</text>
<line x1="303.7" y1="555.2" x2="303.7" y2="648.7" stroke="#666" stroke-width="1.5"/>
<line x1="303.7" y1="648.7" x2="364.8" y2="648.7" stroke="#666" stroke-width="1.5"/>
<line x1="301.9" y1="648.7" x2="303.7" y2="648.7" stroke="#666" stroke-width="0.9"/>
<text x="301" y="651.29" font-size="7.2" text-anchor="end" fill="#1a1a1a">0</text>
<line x1="301.9" y1="635.34" x2="303.7" y2="635.34" stroke="#666" stroke-width="0.9"/>
<text x="301" y="637.93" font-size="7.2" text-anchor="end" fill="#1a1a1a">20</text>
<line x1="301.9" y1="621.99" x2="303.7" y2="621.99" stroke="#666" stroke-width="0.9"/>
<text x="301" y="624.58" font-size="7.2" text-anchor="end" fill="#1a1a1a">40</text>
<line x1="301.9" y1="608.63" x2="303.7" y2="608.63" stroke="#666" stroke-width="0.9"/>
<text x="301" y="611.22" font-size="7.2" text-anchor="end" fill="#1a1a1a">60</text>
<line x1="301.9" y1="595.27" x2="303.7" y2="595.27" stroke="#666" stroke-width="0.9"/>
<text x="301" y="597.86" font-size="7.2" text-anchor="end" fill="#1a1a1a">80</text>
<line x1="301.9" y1="581.91" x2="303.7" y2="581.91" stroke="#666" stroke-width="0.9"/>
<text x="301" y="584.51" font-size="7.2" text-anchor="end" fill="#1a1a1a">100</text>
<line x1="301.9" y1="568.56" x2="303.7" y2="568.56" stroke="#666" stroke-width="0.9"/>
<text x="301" y="571.15" font-size="7.2" text-anchor="end" fill="#1a1a1a">120</text>
<line x1="301.9" y1="555.2" x2="303.7" y2="555.2" stroke="#666" stroke-width="0.9"/>
<text x="301" y="557.79" font-size="7.2" text-anchor="end" fill="#1a1a1a">140</text>
<text transform="translate(282.96,600.5) rotate(-90)" font-size="7.4" text-anchor="middle" fill="#1a1a1a">% of CD34+ cells</text>
<rect x="306.4" y="581.7" width="14" height="67" fill="#a3a3a3"/>
<rect x="306.4" y="597.5" width="14" height="51.2" fill="#fff"/>
<rect x="306.4" y="622.9" width="14" height="25.8" fill="#0a0a0a"/>
<rect x="306.4" y="581.7" width="14" height="67" fill="none" stroke="#111" stroke-width="0.8"/>
<line x1="306.4" y1="597.5" x2="320.4" y2="597.5" stroke="#111" stroke-width="0.8"/>
<line x1="313.4" y1="581.7" x2="313.4" y2="578.5" stroke="#111" stroke-width="0.9"/>
<line x1="311" y1="578.5" x2="315.8" y2="578.5" stroke="#111" stroke-width="0.9"/>
<line x1="313.4" y1="597.5" x2="313.4" y2="594.2" stroke="#111" stroke-width="0.9"/>
<line x1="311" y1="594.2" x2="315.8" y2="594.2" stroke="#111" stroke-width="0.9"/>
<line x1="313.4" y1="622.9" x2="313.4" y2="618.5" stroke="#111" stroke-width="0.9"/>
<line x1="311" y1="618.5" x2="315.8" y2="618.5" stroke="#111" stroke-width="0.9"/>
<line x1="313.4" y1="648.7" x2="313.4" y2="650.3" stroke="#666" stroke-width="0.8"/>
<rect x="327.4" y="582" width="14.1" height="66.7" fill="#a3a3a3"/>
<rect x="327.4" y="607.3" width="14.1" height="41.4" fill="#fff"/>
<rect x="327.4" y="635.8" width="14.1" height="12.9" fill="#0a0a0a"/>
<rect x="327.4" y="582" width="14.1" height="66.7" fill="none" stroke="#111" stroke-width="0.8"/>
<line x1="327.4" y1="607.3" x2="341.5" y2="607.3" stroke="#111" stroke-width="0.8"/>
<line x1="334.45" y1="582" x2="334.45" y2="579.5" stroke="#111" stroke-width="0.9"/>
<line x1="332.05" y1="579.5" x2="336.85" y2="579.5" stroke="#111" stroke-width="0.9"/>
<line x1="334.45" y1="607.3" x2="334.45" y2="606" stroke="#111" stroke-width="0.9"/>
<line x1="332.05" y1="606" x2="336.85" y2="606" stroke="#111" stroke-width="0.9"/>
<line x1="334.45" y1="635.8" x2="334.45" y2="632.9" stroke="#111" stroke-width="0.9"/>
<line x1="332.05" y1="632.9" x2="336.85" y2="632.9" stroke="#111" stroke-width="0.9"/>
<line x1="334.45" y1="648.7" x2="334.45" y2="650.3" stroke="#666" stroke-width="0.8"/>
<rect x="348.4" y="582" width="14.3" height="66.7" fill="#a3a3a3"/>
<rect x="348.4" y="607.3" width="14.3" height="41.4" fill="#fff"/>
<rect x="348.4" y="633.1" width="14.3" height="15.6" fill="#0a0a0a"/>
<rect x="348.4" y="582" width="14.3" height="66.7" fill="none" stroke="#111" stroke-width="0.8"/>
<line x1="348.4" y1="607.3" x2="362.7" y2="607.3" stroke="#111" stroke-width="0.8"/>
<line x1="355.55" y1="582" x2="355.55" y2="579.5" stroke="#111" stroke-width="0.9"/>
<line x1="353.15" y1="579.5" x2="357.95" y2="579.5" stroke="#111" stroke-width="0.9"/>
<line x1="355.55" y1="607.3" x2="355.55" y2="604.5" stroke="#111" stroke-width="0.9"/>
<line x1="353.15" y1="604.5" x2="357.95" y2="604.5" stroke="#111" stroke-width="0.9"/>
<line x1="355.55" y1="633.1" x2="355.55" y2="630.6" stroke="#111" stroke-width="0.9"/>
<line x1="353.15" y1="630.6" x2="357.95" y2="630.6" stroke="#111" stroke-width="0.9"/>
<line x1="355.55" y1="648.7" x2="355.55" y2="650.3" stroke="#666" stroke-width="0.8"/>
<polyline points="312.7,567.7 312.7,565.5 334,565.5 334,567.7" fill="none" stroke="#222" stroke-width="1"/>
<circle cx="321.3" cy="562.3" r="1.35" fill="#111"/>
<circle cx="325.4" cy="562.3" r="1.35" fill="#111"/>
<polyline points="312.7,556.7 312.7,554.5 357.5,554.5 357.5,556.7" fill="none" stroke="#222" stroke-width="1"/>
<circle cx="335.1" cy="551.3" r="1.35" fill="#111"/>
<text transform="translate(316.01,651.2) rotate(-90)" font-size="7.25" text-anchor="end" fill="#1a1a1a">SCF</text>
<text transform="translate(337.06,651.2) rotate(-90)" font-size="7.25" text-anchor="end" fill="#1a1a1a">SCF + TPO</text>
<text transform="translate(358.16,651.2) rotate(-90)" font-size="7.25" text-anchor="end" fill="#1a1a1a">SCF + CCL28</text>
<rect x="370" y="555.5" width="11.5" height="6.6" fill="#0a0a0a" stroke="#111" stroke-width="0.8"/>
<text x="386.9" y="561.56" font-size="7.4" text-anchor="start" fill="#1a1a1a">G0</text>
<rect x="370" y="567" width="11.5" height="6.6" fill="#fff" stroke="#111" stroke-width="0.8"/>
<text x="386.9" y="573.06" font-size="7.4" text-anchor="start" fill="#1a1a1a">G1</text>
<rect x="370" y="578.1" width="11.5" height="6.6" fill="#a3a3a3" stroke="#111" stroke-width="0.8"/>
<text x="386.9" y="584.16" font-size="7.4" text-anchor="start" fill="#1a1a1a">S/G2/M</text>
<text x="424.3" y="543.8" font-size="13.4" font-weight="bold" fill="#000" style="stroke-width:0.35px;stroke:#000">L</text>
<line x1="446.7" y1="555.2" x2="446.7" y2="648.7" stroke="#666" stroke-width="1.5"/>
<line x1="446.7" y1="648.7" x2="510" y2="648.7" stroke="#666" stroke-width="1.5"/>
<line x1="444.9" y1="648.7" x2="446.7" y2="648.7" stroke="#666" stroke-width="0.9"/>
<text x="444" y="651.29" font-size="7.2" text-anchor="end" fill="#1a1a1a">0</text>
<line x1="444.9" y1="625.33" x2="446.7" y2="625.33" stroke="#666" stroke-width="0.9"/>
<text x="444" y="627.92" font-size="7.2" text-anchor="end" fill="#1a1a1a">5</text>
<line x1="444.9" y1="601.95" x2="446.7" y2="601.95" stroke="#666" stroke-width="0.9"/>
<text x="444" y="604.54" font-size="7.2" text-anchor="end" fill="#1a1a1a">10</text>
<line x1="444.9" y1="578.58" x2="446.7" y2="578.58" stroke="#666" stroke-width="0.9"/>
<text x="444" y="581.17" font-size="7.2" text-anchor="end" fill="#1a1a1a">15</text>
<line x1="444.9" y1="555.2" x2="446.7" y2="555.2" stroke="#666" stroke-width="0.9"/>
<text x="444" y="557.79" font-size="7.2" text-anchor="end" fill="#1a1a1a">20</text>
<text transform="translate(430.69,601) rotate(-90)" font-size="7.2" text-anchor="middle" fill="#1a1a1a">CD34<tspan font-size="4.6" dy="-2.6">+</tspan><tspan dy="2.6">Annexin V</tspan><tspan font-size="4.6" dy="-2.6">+</tspan><tspan dy="2.6"> cells (%)</tspan></text>
<defs><pattern id="hatch" patternUnits="userSpaceOnUse" width="2.6" height="2.6" patternTransform="rotate(45)"><rect width="2.6" height="2.6" fill="#fff"/><rect x="0" y="0" width="1.05" height="2.6" fill="#111"/></pattern></defs>
<rect x="450.5" y="587.5" width="14" height="61.2" fill="url(#hatch)" stroke="#111" stroke-width="0.9"/>
<line x1="457.5" y1="587.5" x2="457.5" y2="581.2" stroke="#111" stroke-width="1"/>
<line x1="454.9" y1="581.2" x2="460.1" y2="581.2" stroke="#111" stroke-width="1"/>
<line x1="457.5" y1="648.7" x2="457.5" y2="650.3" stroke="#666" stroke-width="0.8"/>
<rect x="471.4" y="591" width="14.1" height="57.7" fill="url(#hatch)" stroke="#111" stroke-width="0.9"/>
<line x1="478.45" y1="591" x2="478.45" y2="588.1" stroke="#111" stroke-width="1"/>
<line x1="475.85" y1="588.1" x2="481.05" y2="588.1" stroke="#111" stroke-width="1"/>
<line x1="478.45" y1="648.7" x2="478.45" y2="650.3" stroke="#666" stroke-width="0.8"/>
<rect x="492.6" y="603.3" width="14.1" height="45.4" fill="url(#hatch)" stroke="#111" stroke-width="0.9"/>
<line x1="499.65" y1="603.3" x2="499.65" y2="597.1" stroke="#111" stroke-width="1"/>
<line x1="497.05" y1="597.1" x2="502.25" y2="597.1" stroke="#111" stroke-width="1"/>
<line x1="499.65" y1="648.7" x2="499.65" y2="650.3" stroke="#666" stroke-width="0.8"/>
<polyline points="456.9,567.7 456.9,565.5 478.5,565.5 478.5,567.7" fill="none" stroke="#222" stroke-width="1"/>
<text x="467.7" y="564.39" font-size="7.2" text-anchor="middle" fill="#1a1a1a">ns</text>
<polyline points="456.9,556.7 456.9,554.5 500.6,554.5 500.6,556.7" fill="none" stroke="#222" stroke-width="1"/>
<text x="478.75" y="553.39" font-size="7.2" text-anchor="middle" fill="#1a1a1a">ns</text>
<text transform="translate(460.11,651.2) rotate(-90)" font-size="7.25" text-anchor="end" fill="#1a1a1a">SCF</text>
<text transform="translate(481.06,651.2) rotate(-90)" font-size="7.25" text-anchor="end" fill="#1a1a1a">SCF + TPO</text>
<text transform="translate(502.26,651.2) rotate(-90)" font-size="7.25" text-anchor="end" fill="#1a1a1a">SCF + CCL28</text>
</svg>
</body></html>
